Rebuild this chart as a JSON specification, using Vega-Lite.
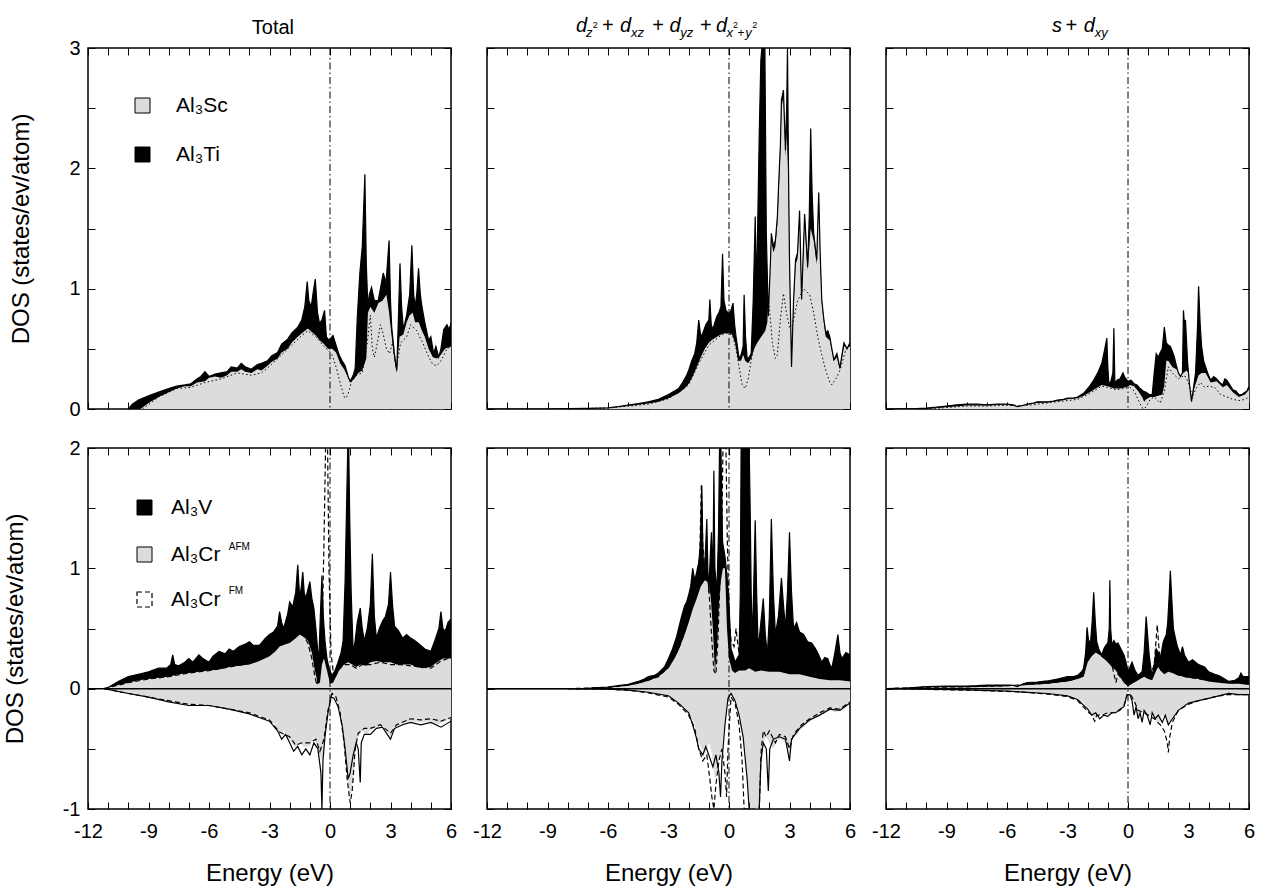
{
"$schema":"https://vega.github.io/schema/vega-lite/v6.json",
"padding":{"left":2,"top":15,"right":5,"bottom":5},
"background":"white",
"config":{
 "font":"Liberation Sans",
 "view":{"stroke":"black","strokeWidth":1.5},
 "axis":{"domain":false,"grid":false,"tickSize":-7,"tickColor":"black","tickWidth":1,"labelFontSize":20,"labelColor":"black","titleFontSize":24,"titleFontWeight":"normal","titleColor":"black","labelOverlap":false,"labelBound":false},
 "axisX":{"labelPadding":19,"titlePadding":20,"labelFlush":false},
 "axisY":{"labelPadding":15,"titlePadding":35},
 "text":{"color":"black"}
},
"datasets":{
"p1":[
{"s":"a","x":-10,"y":0},{"s":"a","x":-9.8,"y":0.04},{"s":"a","x":-9.5,"y":0.075},{"s":"a","x":-9,"y":0.11},{"s":"a","x":-8.5,"y":0.14},{"s":"a","x":-8,"y":0.17},{"s":"a","x":-7.6,"y":0.19},{"s":"a","x":-7.2,"y":0.2},{"s":"a","x":-6.9,"y":0.21},{"s":"a","x":-6.6,"y":0.25},{"s":"a","x":-6.4,"y":0.27},{"s":"a","x":-6.2,"y":0.31},{"s":"a","x":-6,"y":0.27},{"s":"a","x":-5.7,"y":0.29},{"s":"a","x":-5.4,"y":0.3},{"s":"a","x":-5.1,"y":0.31},{"s":"a","x":-4.9,"y":0.35},{"s":"a","x":-4.6,"y":0.34},{"s":"a","x":-4.4,"y":0.38},{"s":"a","x":-4.2,"y":0.35},{"s":"a","x":-3.9,"y":0.33},{"s":"a","x":-3.6,"y":0.37},{"s":"a","x":-3.4,"y":0.38},{"s":"a","x":-3.1,"y":0.4},{"s":"a","x":-2.9,"y":0.44},{"s":"a","x":-2.6,"y":0.47},{"s":"a","x":-2.4,"y":0.54},{"s":"a","x":-2.1,"y":0.58},{"s":"a","x":-1.9,"y":0.63},{"s":"a","x":-1.6,"y":0.68},{"s":"a","x":-1.4,"y":0.74},{"s":"a","x":-1.25,"y":0.85},{"s":"a","x":-1.13,"y":1.06},{"s":"a","x":-1.05,"y":0.9},{"s":"a","x":-0.93,"y":0.85},{"s":"a","x":-0.85,"y":0.95},{"s":"a","x":-0.73,"y":1.08},{"s":"a","x":-0.62,"y":0.8},{"s":"a","x":-0.52,"y":0.71},{"s":"a","x":-0.4,"y":0.74},{"s":"a","x":-0.27,"y":0.82},{"s":"a","x":-0.18,"y":0.6},{"s":"a","x":-0.05,"y":0.57},{"s":"a","x":0.15,"y":0.61},{"s":"a","x":0.3,"y":0.53},{"s":"a","x":0.45,"y":0.45},{"s":"a","x":0.6,"y":0.4},{"s":"a","x":0.75,"y":0.36},{"s":"a","x":0.9,"y":0.27},{"s":"a","x":1,"y":0.23},{"s":"a","x":1.15,"y":0.28},{"s":"a","x":1.25,"y":0.34},{"s":"a","x":1.35,"y":0.75},{"s":"a","x":1.48,"y":1.13},{"s":"a","x":1.6,"y":1.35},{"s":"a","x":1.73,"y":1.95},{"s":"a","x":1.8,"y":1.2},{"s":"a","x":1.88,"y":0.85},{"s":"a","x":1.95,"y":0.95},{"s":"a","x":2.06,"y":1.01},{"s":"a","x":2.2,"y":0.9},{"s":"a","x":2.39,"y":0.9},{"s":"a","x":2.5,"y":1},{"s":"a","x":2.64,"y":1.13},{"s":"a","x":2.78,"y":1.05},{"s":"a","x":2.93,"y":1.4},{"s":"a","x":3,"y":0.9},{"s":"a","x":3.06,"y":0.68},{"s":"a","x":3.2,"y":0.45},{"s":"a","x":3.31,"y":0.32},{"s":"a","x":3.4,"y":0.8},{"s":"a","x":3.47,"y":1.21},{"s":"a","x":3.55,"y":0.85},{"s":"a","x":3.64,"y":0.66},{"s":"a","x":3.8,"y":0.78},{"s":"a","x":3.95,"y":0.95},{"s":"a","x":4.06,"y":1.36},{"s":"a","x":4.15,"y":0.95},{"s":"a","x":4.22,"y":0.85},{"s":"a","x":4.3,"y":0.95},{"s":"a","x":4.39,"y":1.17},{"s":"a","x":4.48,"y":0.95},{"s":"a","x":4.56,"y":0.85},{"s":"a","x":4.7,"y":0.72},{"s":"a","x":4.89,"y":0.57},{"s":"a","x":5,"y":0.6},{"s":"a","x":5.14,"y":0.46},{"s":"a","x":5.25,"y":0.52},{"s":"a","x":5.39,"y":0.43},{"s":"a","x":5.5,"y":0.5},{"s":"a","x":5.64,"y":0.66},{"s":"a","x":5.8,"y":0.7},{"s":"a","x":5.9,"y":0.66},{"s":"a","x":6,"y":0.71},
{"s":"b","x":-9.4,"y":0},{"s":"b","x":-9,"y":0.05},{"s":"b","x":-8.5,"y":0.1},{"s":"b","x":-8,"y":0.14},{"s":"b","x":-7.6,"y":0.17},{"s":"b","x":-7.2,"y":0.19},{"s":"b","x":-6.9,"y":0.19},{"s":"b","x":-6.6,"y":0.22},{"s":"b","x":-6.2,"y":0.23},{"s":"b","x":-6,"y":0.26},{"s":"b","x":-5.7,"y":0.27},{"s":"b","x":-5.4,"y":0.26},{"s":"b","x":-5.1,"y":0.28},{"s":"b","x":-4.9,"y":0.31},{"s":"b","x":-4.6,"y":0.31},{"s":"b","x":-4.4,"y":0.33},{"s":"b","x":-4.2,"y":0.31},{"s":"b","x":-3.9,"y":0.3},{"s":"b","x":-3.6,"y":0.33},{"s":"b","x":-3.4,"y":0.32},{"s":"b","x":-3.1,"y":0.36},{"s":"b","x":-2.9,"y":0.39},{"s":"b","x":-2.6,"y":0.42},{"s":"b","x":-2.4,"y":0.47},{"s":"b","x":-2.1,"y":0.5},{"s":"b","x":-1.9,"y":0.55},{"s":"b","x":-1.6,"y":0.6},{"s":"b","x":-1.4,"y":0.63},{"s":"b","x":-1.1,"y":0.67},{"s":"b","x":-0.9,"y":0.64},{"s":"b","x":-0.7,"y":0.61},{"s":"b","x":-0.5,"y":0.57},{"s":"b","x":-0.3,"y":0.54},{"s":"b","x":-0.1,"y":0.5},{"s":"b","x":0.1,"y":0.5},{"s":"b","x":0.3,"y":0.47},{"s":"b","x":0.5,"y":0.38},{"s":"b","x":0.7,"y":0.33},{"s":"b","x":0.9,"y":0.26},{"s":"b","x":1,"y":0.22},{"s":"b","x":1.2,"y":0.25},{"s":"b","x":1.4,"y":0.3},{"s":"b","x":1.6,"y":0.32},{"s":"b","x":1.8,"y":0.42},{"s":"b","x":1.88,"y":0.8},{"s":"b","x":2,"y":0.85},{"s":"b","x":2.2,"y":0.8},{"s":"b","x":2.4,"y":0.88},{"s":"b","x":2.6,"y":0.9},{"s":"b","x":2.8,"y":0.95},{"s":"b","x":2.93,"y":0.8},{"s":"b","x":3.06,"y":0.6},{"s":"b","x":3.2,"y":0.4},{"s":"b","x":3.31,"y":0.3},{"s":"b","x":3.45,"y":0.6},{"s":"b","x":3.64,"y":0.62},{"s":"b","x":3.8,"y":0.72},{"s":"b","x":3.95,"y":0.78},{"s":"b","x":4.1,"y":0.8},{"s":"b","x":4.22,"y":0.72},{"s":"b","x":4.4,"y":0.72},{"s":"b","x":4.56,"y":0.65},{"s":"b","x":4.7,"y":0.6},{"s":"b","x":4.89,"y":0.5},{"s":"b","x":5.1,"y":0.43},{"s":"b","x":5.3,"y":0.42},{"s":"b","x":5.5,"y":0.45},{"s":"b","x":5.7,"y":0.5},{"s":"b","x":6,"y":0.52},
{"s":"c","x":-9.3,"y":0},{"s":"c","x":-8.5,"y":0.1},{"s":"c","x":-7.6,"y":0.17},{"s":"c","x":-6.9,"y":0.18},{"s":"c","x":-6.2,"y":0.22},{"s":"c","x":-5.4,"y":0.25},{"s":"c","x":-4.6,"y":0.3},{"s":"c","x":-3.9,"y":0.28},{"s":"c","x":-3.4,"y":0.3},{"s":"c","x":-2.9,"y":0.37},{"s":"c","x":-2.4,"y":0.45},{"s":"c","x":-1.9,"y":0.53},{"s":"c","x":-1.4,"y":0.61},{"s":"c","x":-1.1,"y":0.65},{"s":"c","x":-0.7,"y":0.6},{"s":"c","x":-0.3,"y":0.52},{"s":"c","x":-0.1,"y":0.49},{"s":"c","x":0.1,"y":0.45},{"s":"c","x":0.3,"y":0.35},{"s":"c","x":0.5,"y":0.22},{"s":"c","x":0.7,"y":0.1},{"s":"c","x":0.8,"y":0.09},{"s":"c","x":0.95,"y":0.15},{"s":"c","x":1.1,"y":0.25},{"s":"c","x":1.3,"y":0.28},{"s":"c","x":1.6,"y":0.3},{"s":"c","x":1.85,"y":0.55},{"s":"c","x":2,"y":0.78},{"s":"c","x":2.1,"y":0.5},{"s":"c","x":2.2,"y":0.43},{"s":"c","x":2.35,"y":0.55},{"s":"c","x":2.5,"y":0.7},{"s":"c","x":2.6,"y":0.65},{"s":"c","x":2.8,"y":0.5},{"s":"c","x":2.95,"y":0.46},{"s":"c","x":3.1,"y":0.55},{"s":"c","x":3.3,"y":0.35},{"s":"c","x":3.5,"y":0.55},{"s":"c","x":3.8,"y":0.6},{"s":"c","x":4,"y":0.7},{"s":"c","x":4.3,"y":0.65},{"s":"c","x":4.6,"y":0.55},{"s":"c","x":4.9,"y":0.43},{"s":"c","x":5.1,"y":0.37},{"s":"c","x":5.3,"y":0.36},{"s":"c","x":5.5,"y":0.4},{"s":"c","x":5.8,"y":0.5},{"s":"c","x":6,"y":0.52}
],
"p2":[
{"s":"a","x":-12,"y":0},{"s":"a","x":-9,"y":0},{"s":"a","x":-8,"y":0.003},{"s":"a","x":-7,"y":0.006},{"s":"a","x":-6,"y":0.01},{"s":"a","x":-5.5,"y":0.02},{"s":"a","x":-5,"y":0.033},{"s":"a","x":-4.5,"y":0.045},{"s":"a","x":-4,"y":0.06},{"s":"a","x":-3.5,"y":0.08},{"s":"a","x":-3,"y":0.12},{"s":"a","x":-2.7,"y":0.15},{"s":"a","x":-2.5,"y":0.17},{"s":"a","x":-2.3,"y":0.22},{"s":"a","x":-2.1,"y":0.28},{"s":"a","x":-2,"y":0.32},{"s":"a","x":-1.85,"y":0.4},{"s":"a","x":-1.7,"y":0.46},{"s":"a","x":-1.6,"y":0.55},{"s":"a","x":-1.5,"y":0.74},{"s":"a","x":-1.4,"y":0.6},{"s":"a","x":-1.3,"y":0.63},{"s":"a","x":-1.15,"y":0.7},{"s":"a","x":-1,"y":0.74},{"s":"a","x":-0.95,"y":0.91},{"s":"a","x":-0.88,"y":0.7},{"s":"a","x":-0.8,"y":0.66},{"s":"a","x":-0.7,"y":0.72},{"s":"a","x":-0.6,"y":0.77},{"s":"a","x":-0.5,"y":0.8},{"s":"a","x":-0.4,"y":0.85},{"s":"a","x":-0.32,"y":1.29},{"s":"a","x":-0.25,"y":0.9},{"s":"a","x":-0.15,"y":0.82},{"s":"a","x":0,"y":0.79},{"s":"a","x":0.1,"y":0.82},{"s":"a","x":0.2,"y":0.88},{"s":"a","x":0.28,"y":0.7},{"s":"a","x":0.35,"y":0.6},{"s":"a","x":0.5,"y":0.42},{"s":"a","x":0.6,"y":0.45},{"s":"a","x":0.7,"y":0.52},{"s":"a","x":0.75,"y":0.95},{"s":"a","x":0.82,"y":0.6},{"s":"a","x":0.9,"y":0.42},{"s":"a","x":1,"y":0.43},{"s":"a","x":1.1,"y":0.46},{"s":"a","x":1.2,"y":0.9},{"s":"a","x":1.3,"y":1.6},{"s":"a","x":1.36,"y":1},{"s":"a","x":1.42,"y":1.5},{"s":"a","x":1.5,"y":2.29},{"s":"a","x":1.58,"y":2.9},{"s":"a","x":1.63,"y":3},{"s":"a","x":1.72,"y":3},{"s":"a","x":1.78,"y":3},{"s":"a","x":1.85,"y":1.46},{"s":"a","x":1.95,"y":0.77},{"s":"a","x":2.05,"y":1.2},{"s":"a","x":2.1,"y":1.46},{"s":"a","x":2.2,"y":1.35},{"s":"a","x":2.3,"y":1.4},{"s":"a","x":2.4,"y":1.6},{"s":"a","x":2.45,"y":1.82},{"s":"a","x":2.55,"y":2.2},{"s":"a","x":2.6,"y":2.57},{"s":"a","x":2.7,"y":2.65},{"s":"a","x":2.8,"y":2.15},{"s":"a","x":2.86,"y":2.5},{"s":"a","x":2.9,"y":3},{"s":"a","x":2.95,"y":2},{"s":"a","x":3,"y":1.24},{"s":"a","x":3.1,"y":0.35},{"s":"a","x":3.2,"y":0.9},{"s":"a","x":3.3,"y":1.24},{"s":"a","x":3.4,"y":1.3},{"s":"a","x":3.5,"y":1.65},{"s":"a","x":3.6,"y":0.91},{"s":"a","x":3.75,"y":1.62},{"s":"a","x":3.9,"y":1.18},{"s":"a","x":3.98,"y":1.6},{"s":"a","x":4.05,"y":2.33},{"s":"a","x":4.12,"y":1.8},{"s":"a","x":4.2,"y":1.46},{"s":"a","x":4.35,"y":1.24},{"s":"a","x":4.45,"y":1.8},{"s":"a","x":4.52,"y":1.3},{"s":"a","x":4.6,"y":0.91},{"s":"a","x":4.7,"y":0.75},{"s":"a","x":4.8,"y":0.63},{"s":"a","x":4.9,"y":0.65},{"s":"a","x":5,"y":0.6},{"s":"a","x":5.1,"y":0.5},{"s":"a","x":5.2,"y":0.41},{"s":"a","x":5.35,"y":0.46},{"s":"a","x":5.45,"y":0.38},{"s":"a","x":5.5,"y":0.34},{"s":"a","x":5.6,"y":0.45},{"s":"a","x":5.7,"y":0.55},{"s":"a","x":5.85,"y":0.5},{"s":"a","x":6,"y":0.55},
{"s":"b","x":-9,"y":0},{"s":"b","x":-7,"y":0.004},{"s":"b","x":-6,"y":0.008},{"s":"b","x":-5,"y":0.025},{"s":"b","x":-4,"y":0.045},{"s":"b","x":-3.5,"y":0.06},{"s":"b","x":-3,"y":0.09},{"s":"b","x":-2.5,"y":0.13},{"s":"b","x":-2.2,"y":0.17},{"s":"b","x":-2,"y":0.21},{"s":"b","x":-1.8,"y":0.27},{"s":"b","x":-1.6,"y":0.35},{"s":"b","x":-1.4,"y":0.43},{"s":"b","x":-1.2,"y":0.5},{"s":"b","x":-1,"y":0.55},{"s":"b","x":-0.8,"y":0.58},{"s":"b","x":-0.6,"y":0.6},{"s":"b","x":-0.4,"y":0.62},{"s":"b","x":-0.2,"y":0.63},{"s":"b","x":0,"y":0.63},{"s":"b","x":0.15,"y":0.62},{"s":"b","x":0.3,"y":0.55},{"s":"b","x":0.45,"y":0.4},{"s":"b","x":0.6,"y":0.4},{"s":"b","x":0.7,"y":0.45},{"s":"b","x":0.8,"y":0.4},{"s":"b","x":0.95,"y":0.38},{"s":"b","x":1.1,"y":0.42},{"s":"b","x":1.25,"y":0.5},{"s":"b","x":1.4,"y":0.55},{"s":"b","x":1.6,"y":0.6},{"s":"b","x":1.8,"y":0.65},{"s":"b","x":1.9,"y":0.72},{"s":"b","x":2,"y":1.1},{"s":"b","x":2.1,"y":1.4},{"s":"b","x":2.2,"y":1.3},{"s":"b","x":2.3,"y":1.35},{"s":"b","x":2.4,"y":1.55},{"s":"b","x":2.45,"y":1.75},{"s":"b","x":2.55,"y":2.15},{"s":"b","x":2.6,"y":2.5},{"s":"b","x":2.7,"y":2.6},{"s":"b","x":2.8,"y":2.1},{"s":"b","x":2.86,"y":2.3},{"s":"b","x":2.95,"y":1.9},{"s":"b","x":3,"y":1.2},{"s":"b","x":3.1,"y":0.35},{"s":"b","x":3.2,"y":0.85},{"s":"b","x":3.3,"y":1.2},{"s":"b","x":3.4,"y":1.25},{"s":"b","x":3.5,"y":1.6},{"s":"b","x":3.6,"y":0.9},{"s":"b","x":3.75,"y":1.55},{"s":"b","x":3.9,"y":1.15},{"s":"b","x":4.05,"y":1.5},{"s":"b","x":4.2,"y":1.4},{"s":"b","x":4.35,"y":1.2},{"s":"b","x":4.45,"y":1.7},{"s":"b","x":4.52,"y":1.25},{"s":"b","x":4.6,"y":0.88},{"s":"b","x":4.7,"y":0.72},{"s":"b","x":4.8,"y":0.6},{"s":"b","x":5,"y":0.57},{"s":"b","x":5.2,"y":0.4},{"s":"b","x":5.35,"y":0.43},{"s":"b","x":5.5,"y":0.33},{"s":"b","x":5.7,"y":0.52},{"s":"b","x":6,"y":0.52},
{"s":"c","x":-9,"y":0},{"s":"c","x":-6,"y":0.008},{"s":"c","x":-4,"y":0.04},{"s":"c","x":-3,"y":0.085},{"s":"c","x":-2,"y":0.2},{"s":"c","x":-1.5,"y":0.38},{"s":"c","x":-1,"y":0.53},{"s":"c","x":-0.5,"y":0.6},{"s":"c","x":-0.2,"y":0.63},{"s":"c","x":0,"y":0.63},{"s":"c","x":0.2,"y":0.6},{"s":"c","x":0.35,"y":0.5},{"s":"c","x":0.5,"y":0.35},{"s":"c","x":0.65,"y":0.2},{"s":"c","x":0.8,"y":0.17},{"s":"c","x":0.95,"y":0.25},{"s":"c","x":1.1,"y":0.4},{"s":"c","x":1.3,"y":0.6},{"s":"c","x":1.5,"y":0.85},{"s":"c","x":1.7,"y":0.95},{"s":"c","x":1.85,"y":0.99},{"s":"c","x":2,"y":0.85},{"s":"c","x":2.15,"y":0.55},{"s":"c","x":2.3,"y":0.42},{"s":"c","x":2.4,"y":0.45},{"s":"c","x":2.55,"y":0.75},{"s":"c","x":2.7,"y":0.96},{"s":"c","x":2.85,"y":0.8},{"s":"c","x":3,"y":0.68},{"s":"c","x":3.15,"y":0.7},{"s":"c","x":3.4,"y":0.9},{"s":"c","x":3.7,"y":1},{"s":"c","x":4,"y":0.95},{"s":"c","x":4.2,"y":0.8},{"s":"c","x":4.4,"y":0.6},{"s":"c","x":4.6,"y":0.45},{"s":"c","x":4.8,"y":0.32},{"s":"c","x":5,"y":0.22},{"s":"c","x":5.1,"y":0.2},{"s":"c","x":5.3,"y":0.25},{"s":"c","x":5.5,"y":0.32},{"s":"c","x":5.8,"y":0.5},{"s":"c","x":6,"y":0.52}
],
"p3":[
{"s":"a","x":-12,"y":0},{"s":"a","x":-10.5,"y":0.003},{"s":"a","x":-10,"y":0.008},{"s":"a","x":-9.5,"y":0.015},{"s":"a","x":-9,"y":0.025},{"s":"a","x":-8.5,"y":0.035},{"s":"a","x":-8,"y":0.04},{"s":"a","x":-7.5,"y":0.04},{"s":"a","x":-7,"y":0.035},{"s":"a","x":-6.5,"y":0.04},{"s":"a","x":-6,"y":0.04},{"s":"a","x":-5.7,"y":0.035},{"s":"a","x":-5.5,"y":0.02},{"s":"a","x":-5.2,"y":0.03},{"s":"a","x":-5,"y":0.04},{"s":"a","x":-4.7,"y":0.05},{"s":"a","x":-4.5,"y":0.06},{"s":"a","x":-4.2,"y":0.06},{"s":"a","x":-4,"y":0.06},{"s":"a","x":-3.7,"y":0.065},{"s":"a","x":-3.5,"y":0.075},{"s":"a","x":-3.2,"y":0.08},{"s":"a","x":-3,"y":0.09},{"s":"a","x":-2.7,"y":0.09},{"s":"a","x":-2.5,"y":0.1},{"s":"a","x":-2.2,"y":0.13},{"s":"a","x":-1.9,"y":0.19},{"s":"a","x":-1.7,"y":0.24},{"s":"a","x":-1.5,"y":0.3},{"s":"a","x":-1.3,"y":0.38},{"s":"a","x":-1.15,"y":0.5},{"s":"a","x":-1.05,"y":0.59},{"s":"a","x":-1,"y":0.35},{"s":"a","x":-0.95,"y":0.21},{"s":"a","x":-0.85,"y":0.23},{"s":"a","x":-0.75,"y":0.3},{"s":"a","x":-0.7,"y":0.67},{"s":"a","x":-0.65,"y":0.21},{"s":"a","x":-0.55,"y":0.24},{"s":"a","x":-0.4,"y":0.25},{"s":"a","x":-0.25,"y":0.3},{"s":"a","x":-0.15,"y":0.26},{"s":"a","x":0,"y":0.23},{"s":"a","x":0.15,"y":0.24},{"s":"a","x":0.3,"y":0.21},{"s":"a","x":0.45,"y":0.2},{"s":"a","x":0.6,"y":0.17},{"s":"a","x":0.75,"y":0.15},{"s":"a","x":0.9,"y":0.14},{"s":"a","x":1.05,"y":0.12},{"s":"a","x":1.2,"y":0.12},{"s":"a","x":1.3,"y":0.3},{"s":"a","x":1.4,"y":0.46},{"s":"a","x":1.5,"y":0.43},{"s":"a","x":1.6,"y":0.47},{"s":"a","x":1.7,"y":0.5},{"s":"a","x":1.8,"y":0.68},{"s":"a","x":1.9,"y":0.55},{"s":"a","x":2,"y":0.53},{"s":"a","x":2.1,"y":0.52},{"s":"a","x":2.2,"y":0.48},{"s":"a","x":2.3,"y":0.43},{"s":"a","x":2.4,"y":0.36},{"s":"a","x":2.5,"y":0.3},{"s":"a","x":2.6,"y":0.27},{"s":"a","x":2.7,"y":0.3},{"s":"a","x":2.75,"y":0.82},{"s":"a","x":2.8,"y":0.7},{"s":"a","x":2.85,"y":0.74},{"s":"a","x":2.95,"y":0.4},{"s":"a","x":3.05,"y":0.2},{"s":"a","x":3.15,"y":0.06},{"s":"a","x":3.25,"y":0.18},{"s":"a","x":3.35,"y":0.3},{"s":"a","x":3.45,"y":0.7},{"s":"a","x":3.5,"y":1.02},{"s":"a","x":3.58,"y":0.7},{"s":"a","x":3.65,"y":0.52},{"s":"a","x":3.75,"y":0.4},{"s":"a","x":3.85,"y":0.35},{"s":"a","x":3.95,"y":0.3},{"s":"a","x":4.1,"y":0.24},{"s":"a","x":4.25,"y":0.27},{"s":"a","x":4.4,"y":0.25},{"s":"a","x":4.55,"y":0.22},{"s":"a","x":4.7,"y":0.2},{"s":"a","x":4.8,"y":0.25},{"s":"a","x":4.9,"y":0.24},{"s":"a","x":5.05,"y":0.2},{"s":"a","x":5.2,"y":0.16},{"s":"a","x":5.35,"y":0.15},{"s":"a","x":5.5,"y":0.12},{"s":"a","x":5.65,"y":0.12},{"s":"a","x":5.8,"y":0.14},{"s":"a","x":5.9,"y":0.15},{"s":"a","x":6,"y":0.19},
{"s":"b","x":-10,"y":0},{"s":"b","x":-9,"y":0.015},{"s":"b","x":-8,"y":0.03},{"s":"b","x":-7,"y":0.03},{"s":"b","x":-6,"y":0.035},{"s":"b","x":-5.5,"y":0.02},{"s":"b","x":-5,"y":0.035},{"s":"b","x":-4.5,"y":0.05},{"s":"b","x":-4,"y":0.055},{"s":"b","x":-3.5,"y":0.065},{"s":"b","x":-3,"y":0.08},{"s":"b","x":-2.5,"y":0.09},{"s":"b","x":-2.2,"y":0.11},{"s":"b","x":-1.9,"y":0.14},{"s":"b","x":-1.6,"y":0.17},{"s":"b","x":-1.3,"y":0.2},{"s":"b","x":-1,"y":0.19},{"s":"b","x":-0.7,"y":0.17},{"s":"b","x":-0.4,"y":0.17},{"s":"b","x":-0.1,"y":0.18},{"s":"b","x":0.1,"y":0.2},{"s":"b","x":0.3,"y":0.19},{"s":"b","x":0.5,"y":0.15},{"s":"b","x":0.7,"y":0.1},{"s":"b","x":0.8,"y":0.06},{"s":"b","x":0.9,"y":0.08},{"s":"b","x":1.1,"y":0.1},{"s":"b","x":1.3,"y":0.1},{"s":"b","x":1.5,"y":0.11},{"s":"b","x":1.7,"y":0.12},{"s":"b","x":1.8,"y":0.2},{"s":"b","x":1.9,"y":0.4},{"s":"b","x":2,"y":0.4},{"s":"b","x":2.2,"y":0.35},{"s":"b","x":2.4,"y":0.33},{"s":"b","x":2.6,"y":0.28},{"s":"b","x":2.75,"y":0.3},{"s":"b","x":2.9,"y":0.32},{"s":"b","x":3,"y":0.3},{"s":"b","x":3.15,"y":0.06},{"s":"b","x":3.3,"y":0.18},{"s":"b","x":3.5,"y":0.28},{"s":"b","x":3.65,"y":0.3},{"s":"b","x":3.85,"y":0.3},{"s":"b","x":4.1,"y":0.22},{"s":"b","x":4.4,"y":0.23},{"s":"b","x":4.7,"y":0.18},{"s":"b","x":4.9,"y":0.2},{"s":"b","x":5.2,"y":0.14},{"s":"b","x":5.5,"y":0.1},{"s":"b","x":5.8,"y":0.12},{"s":"b","x":6,"y":0.16},
{"s":"c","x":-10,"y":0},{"s":"c","x":-9,"y":0.012},{"s":"c","x":-8,"y":0.025},{"s":"c","x":-7,"y":0.025},{"s":"c","x":-6,"y":0.03},{"s":"c","x":-5,"y":0.03},{"s":"c","x":-4,"y":0.05},{"s":"c","x":-3,"y":0.07},{"s":"c","x":-2.5,"y":0.08},{"s":"c","x":-2,"y":0.12},{"s":"c","x":-1.6,"y":0.16},{"s":"c","x":-1.3,"y":0.19},{"s":"c","x":-1,"y":0.18},{"s":"c","x":-0.6,"y":0.16},{"s":"c","x":-0.2,"y":0.17},{"s":"c","x":0.1,"y":0.18},{"s":"c","x":0.3,"y":0.15},{"s":"c","x":0.5,"y":0.08},{"s":"c","x":0.7,"y":0.01},{"s":"c","x":0.8,"y":0},{"s":"c","x":0.9,"y":0.02},{"s":"c","x":1.1,"y":0.08},{"s":"c","x":1.3,"y":0.1},{"s":"c","x":1.6,"y":0.05},{"s":"c","x":1.8,"y":0.15},{"s":"c","x":2,"y":0.35},{"s":"c","x":2.2,"y":0.3},{"s":"c","x":2.5,"y":0.25},{"s":"c","x":2.8,"y":0.28},{"s":"c","x":3,"y":0.22},{"s":"c","x":3.2,"y":0.1},{"s":"c","x":3.4,"y":0.18},{"s":"c","x":3.6,"y":0.22},{"s":"c","x":3.8,"y":0.18},{"s":"c","x":4,"y":0.19},{"s":"c","x":4.3,"y":0.18},{"s":"c","x":4.6,"y":0.12},{"s":"c","x":4.9,"y":0.1},{"s":"c","x":5.2,"y":0.08},{"s":"c","x":5.5,"y":0.07},{"s":"c","x":5.8,"y":0.08},{"s":"c","x":6,"y":0.1}
],
"p4":[
{"s":"v","x":-11.2,"y":0},{"s":"v","x":-11,"y":0.01},{"s":"v","x":-10.5,"y":0.06},{"s":"v","x":-10,"y":0.1},{"s":"v","x":-9.5,"y":0.12},{"s":"v","x":-9,"y":0.14},{"s":"v","x":-8.5,"y":0.17},{"s":"v","x":-8.1,"y":0.17},{"s":"v","x":-7.9,"y":0.2},{"s":"v","x":-7.8,"y":0.28},{"s":"v","x":-7.7,"y":0.2},{"s":"v","x":-7.5,"y":0.19},{"s":"v","x":-7.2,"y":0.22},{"s":"v","x":-7,"y":0.25},{"s":"v","x":-6.8,"y":0.22},{"s":"v","x":-6.5,"y":0.28},{"s":"v","x":-6.3,"y":0.25},{"s":"v","x":-6,"y":0.22},{"s":"v","x":-5.8,"y":0.27},{"s":"v","x":-5.5,"y":0.31},{"s":"v","x":-5.2,"y":0.29},{"s":"v","x":-5,"y":0.33},{"s":"v","x":-4.8,"y":0.31},{"s":"v","x":-4.5,"y":0.35},{"s":"v","x":-4.2,"y":0.37},{"s":"v","x":-4,"y":0.39},{"s":"v","x":-3.8,"y":0.36},{"s":"v","x":-3.5,"y":0.36},{"s":"v","x":-3.2,"y":0.42},{"s":"v","x":-3,"y":0.45},{"s":"v","x":-2.8,"y":0.47},{"s":"v","x":-2.6,"y":0.52},{"s":"v","x":-2.5,"y":0.64},{"s":"v","x":-2.4,"y":0.55},{"s":"v","x":-2.3,"y":0.5},{"s":"v","x":-2.1,"y":0.62},{"s":"v","x":-2,"y":0.72},{"s":"v","x":-1.85,"y":0.68},{"s":"v","x":-1.7,"y":0.8},{"s":"v","x":-1.6,"y":1.03},{"s":"v","x":-1.5,"y":0.75},{"s":"v","x":-1.42,"y":0.85},{"s":"v","x":-1.35,"y":0.97},{"s":"v","x":-1.28,"y":0.8},{"s":"v","x":-1.2,"y":0.75},{"s":"v","x":-1.1,"y":0.82},{"s":"v","x":-1,"y":0.89},{"s":"v","x":-0.9,"y":0.75},{"s":"v","x":-0.8,"y":0.67},{"s":"v","x":-0.7,"y":0.5},{"s":"v","x":-0.6,"y":0.3},{"s":"v","x":-0.55,"y":0.25},{"s":"v","x":-0.48,"y":0.6},{"s":"v","x":-0.4,"y":0.94},{"s":"v","x":-0.33,"y":0.6},{"s":"v","x":-0.25,"y":0.4},{"s":"v","x":-0.15,"y":0.25},{"s":"v","x":-0.05,"y":0.17},{"s":"v","x":0.1,"y":0.11},{"s":"v","x":0.25,"y":0.15},{"s":"v","x":0.4,"y":0.22},{"s":"v","x":0.55,"y":0.3},{"s":"v","x":0.65,"y":0.4},{"s":"v","x":0.75,"y":0.9},{"s":"v","x":0.82,"y":1.5},{"s":"v","x":0.88,"y":2},{"s":"v","x":0.93,"y":2},{"s":"v","x":0.98,"y":1.4},{"s":"v","x":1.05,"y":0.8},{"s":"v","x":1.15,"y":0.3},{"s":"v","x":1.25,"y":0.4},{"s":"v","x":1.35,"y":0.55},{"s":"v","x":1.5,"y":0.67},{"s":"v","x":1.6,"y":0.5},{"s":"v","x":1.7,"y":0.4},{"s":"v","x":1.85,"y":0.5},{"s":"v","x":2,"y":0.7},{"s":"v","x":2.1,"y":1.12},{"s":"v","x":2.2,"y":0.6},{"s":"v","x":2.3,"y":0.42},{"s":"v","x":2.45,"y":0.5},{"s":"v","x":2.6,"y":0.56},{"s":"v","x":2.75,"y":0.6},{"s":"v","x":2.9,"y":0.7},{"s":"v","x":3,"y":0.97},{"s":"v","x":3.1,"y":0.7},{"s":"v","x":3.2,"y":0.52},{"s":"v","x":3.4,"y":0.48},{"s":"v","x":3.6,"y":0.42},{"s":"v","x":3.8,"y":0.45},{"s":"v","x":4,"y":0.42},{"s":"v","x":4.2,"y":0.4},{"s":"v","x":4.5,"y":0.36},{"s":"v","x":4.7,"y":0.33},{"s":"v","x":5,"y":0.31},{"s":"v","x":5.2,"y":0.4},{"s":"v","x":5.4,"y":0.5},{"s":"v","x":5.5,"y":0.64},{"s":"v","x":5.6,"y":0.5},{"s":"v","x":5.7,"y":0.47},{"s":"v","x":5.85,"y":0.55},{"s":"v","x":6,"y":0.58},
{"s":"g","x":-11.2,"y":0},{"s":"g","x":-10.5,"y":0.03},{"s":"g","x":-10,"y":0.05},{"s":"g","x":-9.5,"y":0.07},{"s":"g","x":-9,"y":0.08},{"s":"g","x":-8.5,"y":0.09},{"s":"g","x":-8,"y":0.1},{"s":"g","x":-7.5,"y":0.12},{"s":"g","x":-7,"y":0.13},{"s":"g","x":-6.5,"y":0.14},{"s":"g","x":-6,"y":0.15},{"s":"g","x":-5.5,"y":0.16},{"s":"g","x":-5,"y":0.18},{"s":"g","x":-4.5,"y":0.19},{"s":"g","x":-4,"y":0.2},{"s":"g","x":-3.5,"y":0.23},{"s":"g","x":-3,"y":0.27},{"s":"g","x":-2.7,"y":0.31},{"s":"g","x":-2.5,"y":0.35},{"s":"g","x":-2.2,"y":0.37},{"s":"g","x":-2,"y":0.38},{"s":"g","x":-1.7,"y":0.42},{"s":"g","x":-1.5,"y":0.45},{"s":"g","x":-1.3,"y":0.43},{"s":"g","x":-1.1,"y":0.4},{"s":"g","x":-0.9,"y":0.3},{"s":"g","x":-0.75,"y":0.15},{"s":"g","x":-0.6,"y":0.04},{"s":"g","x":-0.5,"y":0.05},{"s":"g","x":-0.4,"y":0.2},{"s":"g","x":-0.3,"y":0.25},{"s":"g","x":-0.15,"y":0.15},{"s":"g","x":0,"y":0.04},{"s":"g","x":0.15,"y":0.05},{"s":"g","x":0.3,"y":0.1},{"s":"g","x":0.5,"y":0.17},{"s":"g","x":0.7,"y":0.2},{"s":"g","x":0.9,"y":0.22},{"s":"g","x":1.1,"y":0.2},{"s":"g","x":1.3,"y":0.18},{"s":"g","x":1.5,"y":0.2},{"s":"g","x":1.8,"y":0.19},{"s":"g","x":2,"y":0.22},{"s":"g","x":2.3,"y":0.23},{"s":"g","x":2.6,"y":0.22},{"s":"g","x":3,"y":0.22},{"s":"g","x":3.3,"y":0.2},{"s":"g","x":3.6,"y":0.2},{"s":"g","x":4,"y":0.2},{"s":"g","x":4.3,"y":0.18},{"s":"g","x":4.6,"y":0.17},{"s":"g","x":5,"y":0.18},{"s":"g","x":5.3,"y":0.22},{"s":"g","x":5.6,"y":0.25},{"s":"g","x":6,"y":0.25},
{"s":"f","x":-11.2,"y":0},{"s":"f","x":-10,"y":0.05},{"s":"f","x":-9,"y":0.08},{"s":"f","x":-8,"y":0.1},{"s":"f","x":-7,"y":0.13},{"s":"f","x":-6,"y":0.15},{"s":"f","x":-5,"y":0.18},{"s":"f","x":-4,"y":0.21},{"s":"f","x":-3,"y":0.28},{"s":"f","x":-2.5,"y":0.36},{"s":"f","x":-2,"y":0.4},{"s":"f","x":-1.7,"y":0.44},{"s":"f","x":-1.5,"y":0.46},{"s":"f","x":-1.3,"y":0.44},{"s":"f","x":-1.1,"y":0.38},{"s":"f","x":-0.9,"y":0.25},{"s":"f","x":-0.75,"y":0.1},{"s":"f","x":-0.65,"y":0.03},{"s":"f","x":-0.55,"y":0.1},{"s":"f","x":-0.4,"y":0.4},{"s":"f","x":-0.3,"y":1.2},{"s":"f","x":-0.22,"y":2},{"s":"f","x":-0.12,"y":2},{"s":"f","x":-0.05,"y":1},{"s":"f","x":0.05,"y":0.3},{"s":"f","x":0.2,"y":0.08},{"s":"f","x":0.4,"y":0.15},{"s":"f","x":0.7,"y":0.2},{"s":"f","x":1,"y":0.2},{"s":"f","x":1.3,"y":0.17},{"s":"f","x":1.6,"y":0.2},{"s":"f","x":2,"y":0.2},{"s":"f","x":2.5,"y":0.22},{"s":"f","x":3,"y":0.2},{"s":"f","x":3.5,"y":0.2},{"s":"f","x":4,"y":0.19},{"s":"f","x":4.5,"y":0.18},{"s":"f","x":5,"y":0.17},{"s":"f","x":5.5,"y":0.23},{"s":"f","x":6,"y":0.26},
{"s":"gd","x":-11.2,"y":0},{"s":"gd","x":-10.5,"y":-0.02},{"s":"gd","x":-10,"y":-0.04},{"s":"gd","x":-9.5,"y":-0.05},{"s":"gd","x":-9,"y":-0.07},{"s":"gd","x":-8.5,"y":-0.09},{"s":"gd","x":-8,"y":-0.11},{"s":"gd","x":-7.5,"y":-0.12},{"s":"gd","x":-7,"y":-0.14},{"s":"gd","x":-6.5,"y":-0.13},{"s":"gd","x":-6,"y":-0.14},{"s":"gd","x":-5.5,"y":-0.15},{"s":"gd","x":-5,"y":-0.17},{"s":"gd","x":-4.5,"y":-0.18},{"s":"gd","x":-4,"y":-0.2},{"s":"gd","x":-3.5,"y":-0.22},{"s":"gd","x":-3,"y":-0.26},{"s":"gd","x":-2.7,"y":-0.3},{"s":"gd","x":-2.5,"y":-0.38},{"s":"gd","x":-2.3,"y":-0.35},{"s":"gd","x":-2,"y":-0.42},{"s":"gd","x":-1.7,"y":-0.5},{"s":"gd","x":-1.5,"y":-0.45},{"s":"gd","x":-1.3,"y":-0.48},{"s":"gd","x":-1,"y":-0.48},{"s":"gd","x":-0.8,"y":-0.4},{"s":"gd","x":-0.7,"y":-0.45},{"s":"gd","x":-0.5,"y":-0.55},{"s":"gd","x":-0.4,"y":-0.6},{"s":"gd","x":-0.3,"y":-0.45},{"s":"gd","x":-0.2,"y":-0.35},{"s":"gd","x":-0.1,"y":-0.2},{"s":"gd","x":0,"y":-0.1},{"s":"gd","x":0.1,"y":-0.05},{"s":"gd","x":0.25,"y":-0.07},{"s":"gd","x":0.4,"y":-0.12},{"s":"gd","x":0.55,"y":-0.22},{"s":"gd","x":0.7,"y":-0.4},{"s":"gd","x":0.8,"y":-0.6},{"s":"gd","x":0.9,"y":-0.8},{"s":"gd","x":1,"y":-0.9},{"s":"gd","x":1.1,"y":-0.8},{"s":"gd","x":1.2,"y":-0.65},{"s":"gd","x":1.3,"y":-0.45},{"s":"gd","x":1.45,"y":-0.38},{"s":"gd","x":1.6,"y":-0.35},{"s":"gd","x":1.8,"y":-0.38},{"s":"gd","x":2,"y":-0.35},{"s":"gd","x":2.3,"y":-0.32},{"s":"gd","x":2.6,"y":-0.3},{"s":"gd","x":2.85,"y":-0.35},{"s":"gd","x":3,"y":-0.4},{"s":"gd","x":3.15,"y":-0.32},{"s":"gd","x":3.5,"y":-0.3},{"s":"gd","x":4,"y":-0.27},{"s":"gd","x":4.5,"y":-0.28},{"s":"gd","x":5,"y":-0.27},{"s":"gd","x":5.3,"y":-0.3},{"s":"gd","x":5.6,"y":-0.28},{"s":"gd","x":6,"y":-0.25},
{"s":"vd","x":-11.2,"y":0},{"s":"vd","x":-10,"y":-0.04},{"s":"vd","x":-9,"y":-0.07},{"s":"vd","x":-8,"y":-0.11},{"s":"vd","x":-7,"y":-0.14},{"s":"vd","x":-6,"y":-0.14},{"s":"vd","x":-5,"y":-0.17},{"s":"vd","x":-4,"y":-0.21},{"s":"vd","x":-3,"y":-0.27},{"s":"vd","x":-2.6,"y":-0.35},{"s":"vd","x":-2.4,"y":-0.42},{"s":"vd","x":-2.2,"y":-0.38},{"s":"vd","x":-2,"y":-0.45},{"s":"vd","x":-1.8,"y":-0.52},{"s":"vd","x":-1.6,"y":-0.48},{"s":"vd","x":-1.4,"y":-0.55},{"s":"vd","x":-1.2,"y":-0.5},{"s":"vd","x":-1,"y":-0.55},{"s":"vd","x":-0.8,"y":-0.45},{"s":"vd","x":-0.6,"y":-0.5},{"s":"vd","x":-0.45,"y":-0.7},{"s":"vd","x":-0.4,"y":-1},{"s":"vd","x":-0.35,"y":-0.6},{"s":"vd","x":-0.25,"y":-0.4},{"s":"vd","x":-0.1,"y":-0.2},{"s":"vd","x":0.05,"y":-0.07},{"s":"vd","x":0.2,"y":-0.08},{"s":"vd","x":0.4,"y":-0.15},{"s":"vd","x":0.6,"y":-0.3},{"s":"vd","x":0.75,"y":-0.5},{"s":"vd","x":0.9,"y":-0.75},{"s":"vd","x":1,"y":-0.7},{"s":"vd","x":1.15,"y":-0.55},{"s":"vd","x":1.3,"y":-0.45},{"s":"vd","x":1.4,"y":-0.5},{"s":"vd","x":1.5,"y":-0.78},{"s":"vd","x":1.55,"y":-0.45},{"s":"vd","x":1.7,"y":-0.38},{"s":"vd","x":2,"y":-0.38},{"s":"vd","x":2.3,"y":-0.33},{"s":"vd","x":2.6,"y":-0.32},{"s":"vd","x":3,"y":-0.42},{"s":"vd","x":3.2,"y":-0.33},{"s":"vd","x":3.6,"y":-0.3},{"s":"vd","x":4,"y":-0.28},{"s":"vd","x":4.5,"y":-0.3},{"s":"vd","x":5,"y":-0.28},{"s":"vd","x":5.5,"y":-0.32},{"s":"vd","x":6,"y":-0.27},
{"s":"fd","x":-11.2,"y":0},{"s":"fd","x":-10,"y":-0.04},{"s":"fd","x":-9,"y":-0.07},{"s":"fd","x":-8,"y":-0.1},{"s":"fd","x":-7,"y":-0.13},{"s":"fd","x":-6,"y":-0.14},{"s":"fd","x":-5,"y":-0.17},{"s":"fd","x":-4,"y":-0.2},{"s":"fd","x":-3,"y":-0.26},{"s":"fd","x":-2.5,"y":-0.36},{"s":"fd","x":-2,"y":-0.4},{"s":"fd","x":-1.7,"y":-0.47},{"s":"fd","x":-1.4,"y":-0.45},{"s":"fd","x":-1,"y":-0.45},{"s":"fd","x":-0.7,"y":-0.42},{"s":"fd","x":-0.5,"y":-0.52},{"s":"fd","x":-0.3,"y":-0.42},{"s":"fd","x":-0.1,"y":-0.18},{"s":"fd","x":0.1,"y":-0.04},{"s":"fd","x":0.3,"y":-0.07},{"s":"fd","x":0.5,"y":-0.2},{"s":"fd","x":0.7,"y":-0.45},{"s":"fd","x":0.85,"y":-0.75},{"s":"fd","x":1,"y":-0.95},{"s":"fd","x":1.1,"y":-0.85},{"s":"fd","x":1.25,"y":-0.5},{"s":"fd","x":1.4,"y":-0.37},{"s":"fd","x":1.7,"y":-0.33},{"s":"fd","x":2,"y":-0.33},{"s":"fd","x":2.5,"y":-0.3},{"s":"fd","x":3,"y":-0.37},{"s":"fd","x":3.3,"y":-0.3},{"s":"fd","x":4,"y":-0.25},{"s":"fd","x":4.5,"y":-0.26},{"s":"fd","x":5,"y":-0.25},{"s":"fd","x":5.5,"y":-0.27},{"s":"fd","x":6,"y":-0.24}
],
"p5":[
{"s":"v","x":-12,"y":0},{"s":"v","x":-8,"y":0},{"s":"v","x":-7,"y":0.003},{"s":"v","x":-6.5,"y":0.008},{"s":"v","x":-6,"y":0.014},{"s":"v","x":-5.5,"y":0.025},{"s":"v","x":-5,"y":0.036},{"s":"v","x":-4.5,"y":0.06},{"s":"v","x":-4.2,"y":0.08},{"s":"v","x":-4,"y":0.1},{"s":"v","x":-3.7,"y":0.11},{"s":"v","x":-3.5,"y":0.13},{"s":"v","x":-3.2,"y":0.18},{"s":"v","x":-3,"y":0.25},{"s":"v","x":-2.8,"y":0.33},{"s":"v","x":-2.6,"y":0.43},{"s":"v","x":-2.5,"y":0.5},{"s":"v","x":-2.35,"y":0.6},{"s":"v","x":-2.2,"y":0.69},{"s":"v","x":-2.1,"y":0.72},{"s":"v","x":-2,"y":0.78},{"s":"v","x":-1.9,"y":0.85},{"s":"v","x":-1.8,"y":1},{"s":"v","x":-1.7,"y":0.9},{"s":"v","x":-1.6,"y":0.97},{"s":"v","x":-1.5,"y":1.05},{"s":"v","x":-1.42,"y":1.2},{"s":"v","x":-1.35,"y":1.69},{"s":"v","x":-1.3,"y":1.2},{"s":"v","x":-1.25,"y":0.94},{"s":"v","x":-1.18,"y":1.1},{"s":"v","x":-1.1,"y":1.41},{"s":"v","x":-1.05,"y":1},{"s":"v","x":-1,"y":0.8},{"s":"v","x":-0.93,"y":1.1},{"s":"v","x":-0.87,"y":1.3},{"s":"v","x":-0.8,"y":0.9},{"s":"v","x":-0.75,"y":1.81},{"s":"v","x":-0.7,"y":1},{"s":"v","x":-0.6,"y":0.8},{"s":"v","x":-0.52,"y":1.3},{"s":"v","x":-0.47,"y":2},{"s":"v","x":-0.4,"y":2},{"s":"v","x":-0.32,"y":1.22},{"s":"v","x":-0.2,"y":1.1},{"s":"v","x":-0.1,"y":0.94},{"s":"v","x":0,"y":0.7},{"s":"v","x":0.1,"y":0.33},{"s":"v","x":0.2,"y":0.28},{"s":"v","x":0.3,"y":0.22},{"s":"v","x":0.4,"y":0.25},{"s":"v","x":0.5,"y":0.28},{"s":"v","x":0.56,"y":0.8},{"s":"v","x":0.6,"y":2},{"s":"v","x":1,"y":2},{"s":"v","x":1.05,"y":1.5},{"s":"v","x":1.1,"y":0.8},{"s":"v","x":1.15,"y":0.39},{"s":"v","x":1.22,"y":0.8},{"s":"v","x":1.3,"y":1.4},{"s":"v","x":1.37,"y":0.8},{"s":"v","x":1.45,"y":0.33},{"s":"v","x":1.55,"y":0.5},{"s":"v","x":1.7,"y":0.75},{"s":"v","x":1.8,"y":0.45},{"s":"v","x":1.9,"y":0.28},{"s":"v","x":2,"y":0.6},{"s":"v","x":2.1,"y":1.41},{"s":"v","x":2.2,"y":0.8},{"s":"v","x":2.3,"y":0.45},{"s":"v","x":2.45,"y":0.6},{"s":"v","x":2.6,"y":0.92},{"s":"v","x":2.7,"y":0.7},{"s":"v","x":2.8,"y":0.5},{"s":"v","x":2.9,"y":0.8},{"s":"v","x":3,"y":1.3},{"s":"v","x":3.1,"y":0.8},{"s":"v","x":3.2,"y":0.5},{"s":"v","x":3.35,"y":0.55},{"s":"v","x":3.5,"y":0.47},{"s":"v","x":3.7,"y":0.45},{"s":"v","x":3.9,"y":0.39},{"s":"v","x":4.1,"y":0.38},{"s":"v","x":4.3,"y":0.33},{"s":"v","x":4.45,"y":0.28},{"s":"v","x":4.6,"y":0.22},{"s":"v","x":4.75,"y":0.26},{"s":"v","x":4.9,"y":0.25},{"s":"v","x":5,"y":0.2},{"s":"v","x":5.1,"y":0.17},{"s":"v","x":5.25,"y":0.3},{"s":"v","x":5.4,"y":0.45},{"s":"v","x":5.5,"y":0.3},{"s":"v","x":5.6,"y":0.25},{"s":"v","x":5.8,"y":0.3},{"s":"v","x":6,"y":0.28},
{"s":"g","x":-8,"y":0},{"s":"g","x":-7,"y":0.002},{"s":"g","x":-6,"y":0.008},{"s":"g","x":-5,"y":0.025},{"s":"g","x":-4.5,"y":0.04},{"s":"g","x":-4,"y":0.065},{"s":"g","x":-3.5,"y":0.1},{"s":"g","x":-3,"y":0.17},{"s":"g","x":-2.7,"y":0.25},{"s":"g","x":-2.5,"y":0.32},{"s":"g","x":-2.2,"y":0.45},{"s":"g","x":-2,"y":0.55},{"s":"g","x":-1.8,"y":0.66},{"s":"g","x":-1.6,"y":0.75},{"s":"g","x":-1.4,"y":0.85},{"s":"g","x":-1.2,"y":0.9},{"s":"g","x":-1,"y":0.88},{"s":"g","x":-0.9,"y":0.75},{"s":"g","x":-0.8,"y":0.5},{"s":"g","x":-0.7,"y":0.15},{"s":"g","x":-0.6,"y":0.3},{"s":"g","x":-0.5,"y":0.7},{"s":"g","x":-0.4,"y":0.9},{"s":"g","x":-0.3,"y":1},{"s":"g","x":-0.2,"y":1},{"s":"g","x":-0.1,"y":0.5},{"s":"g","x":0,"y":0.25},{"s":"g","x":0.15,"y":0.15},{"s":"g","x":0.3,"y":0.13},{"s":"g","x":0.5,"y":0.15},{"s":"g","x":0.8,"y":0.15},{"s":"g","x":1,"y":0.17},{"s":"g","x":1.3,"y":0.14},{"s":"g","x":1.6,"y":0.15},{"s":"g","x":2,"y":0.14},{"s":"g","x":2.5,"y":0.14},{"s":"g","x":3,"y":0.12},{"s":"g","x":3.5,"y":0.12},{"s":"g","x":4,"y":0.1},{"s":"g","x":4.5,"y":0.08},{"s":"g","x":5,"y":0.07},{"s":"g","x":5.5,"y":0.07},{"s":"g","x":6,"y":0.06},
{"s":"f","x":-8,"y":0},{"s":"f","x":-6,"y":0.01},{"s":"f","x":-5,"y":0.03},{"s":"f","x":-4,"y":0.07},{"s":"f","x":-3.5,"y":0.1},{"s":"f","x":-3,"y":0.18},{"s":"f","x":-2.5,"y":0.33},{"s":"f","x":-2.2,"y":0.47},{"s":"f","x":-2,"y":0.58},{"s":"f","x":-1.8,"y":0.7},{"s":"f","x":-1.6,"y":0.85},{"s":"f","x":-1.45,"y":1.1},{"s":"f","x":-1.37,"y":1.7},{"s":"f","x":-1.3,"y":1.2},{"s":"f","x":-1.2,"y":1},{"s":"f","x":-1.05,"y":0.95},{"s":"f","x":-0.95,"y":0.7},{"s":"f","x":-0.85,"y":0.4},{"s":"f","x":-0.75,"y":0.15},{"s":"f","x":-0.65,"y":0.12},{"s":"f","x":-0.55,"y":0.4},{"s":"f","x":-0.45,"y":0.9},{"s":"f","x":-0.35,"y":1.4},{"s":"f","x":-0.3,"y":2},{"s":"f","x":-0.15,"y":2},{"s":"f","x":-0.08,"y":1.2},{"s":"f","x":0,"y":0.6},{"s":"f","x":0.1,"y":0.4},{"s":"f","x":0.25,"y":0.35},{"s":"f","x":0.35,"y":0.5},{"s":"f","x":0.45,"y":0.35},{"s":"f","x":0.6,"y":0.2},{"s":"f","x":0.8,"y":0.2},{"s":"f","x":1.1,"y":0.25},{"s":"f","x":1.3,"y":0.2},{"s":"f","x":1.6,"y":0.22},{"s":"f","x":1.9,"y":0.18},{"s":"f","x":2.2,"y":0.2},{"s":"f","x":2.5,"y":0.16},{"s":"f","x":3,"y":0.15},{"s":"f","x":3.5,"y":0.14},{"s":"f","x":4,"y":0.12},{"s":"f","x":4.5,"y":0.1},{"s":"f","x":5,"y":0.09},{"s":"f","x":5.5,"y":0.08},{"s":"f","x":6,"y":0.08},
{"s":"gd","x":-8,"y":0},{"s":"gd","x":-6,"y":-0.005},{"s":"gd","x":-5,"y":-0.01},{"s":"gd","x":-4,"y":-0.03},{"s":"gd","x":-3.5,"y":-0.04},{"s":"gd","x":-3,"y":-0.06},{"s":"gd","x":-2.5,"y":-0.12},{"s":"gd","x":-2.2,"y":-0.16},{"s":"gd","x":-2,"y":-0.2},{"s":"gd","x":-1.8,"y":-0.26},{"s":"gd","x":-1.7,"y":-0.3},{"s":"gd","x":-1.6,"y":-0.38},{"s":"gd","x":-1.5,"y":-0.45},{"s":"gd","x":-1.35,"y":-0.5},{"s":"gd","x":-1.2,"y":-0.55},{"s":"gd","x":-1.1,"y":-0.5},{"s":"gd","x":-1,"y":-0.45},{"s":"gd","x":-0.9,"y":-0.5},{"s":"gd","x":-0.8,"y":-0.6},{"s":"gd","x":-0.7,"y":-0.75},{"s":"gd","x":-0.6,"y":-0.7},{"s":"gd","x":-0.5,"y":-0.6},{"s":"gd","x":-0.4,"y":-0.55},{"s":"gd","x":-0.3,"y":-0.4},{"s":"gd","x":-0.2,"y":-0.25},{"s":"gd","x":-0.1,"y":-0.12},{"s":"gd","x":0.05,"y":-0.05},{"s":"gd","x":0.2,"y":-0.06},{"s":"gd","x":0.35,"y":-0.1},{"s":"gd","x":0.5,"y":-0.2},{"s":"gd","x":0.65,"y":-0.35},{"s":"gd","x":0.8,"y":-0.5},{"s":"gd","x":0.95,"y":-0.8},{"s":"gd","x":1.05,"y":-1},{"s":"gd","x":1.5,"y":-1},{"s":"gd","x":1.6,"y":-0.7},{"s":"gd","x":1.7,"y":-0.45},{"s":"gd","x":1.85,"y":-0.4},{"s":"gd","x":2,"y":-0.45},{"s":"gd","x":2.2,"y":-0.5},{"s":"gd","x":2.4,"y":-0.43},{"s":"gd","x":2.6,"y":-0.42},{"s":"gd","x":2.8,"y":-0.45},{"s":"gd","x":3,"y":-0.55},{"s":"gd","x":3.15,"y":-0.42},{"s":"gd","x":3.5,"y":-0.35},{"s":"gd","x":4,"y":-0.27},{"s":"gd","x":4.5,"y":-0.22},{"s":"gd","x":5,"y":-0.18},{"s":"gd","x":5.3,"y":-0.2},{"s":"gd","x":5.5,"y":-0.17},{"s":"gd","x":5.7,"y":-0.15},{"s":"gd","x":6,"y":-0.12},
{"s":"vd","x":-8,"y":0},{"s":"vd","x":-6,"y":-0.005},{"s":"vd","x":-5,"y":-0.012},{"s":"vd","x":-4,"y":-0.03},{"s":"vd","x":-3,"y":-0.06},{"s":"vd","x":-2.5,"y":-0.12},{"s":"vd","x":-2,"y":-0.2},{"s":"vd","x":-1.8,"y":-0.3},{"s":"vd","x":-1.6,"y":-0.42},{"s":"vd","x":-1.5,"y":-0.5},{"s":"vd","x":-1.3,"y":-0.55},{"s":"vd","x":-1.15,"y":-0.48},{"s":"vd","x":-1,"y":-0.55},{"s":"vd","x":-0.8,"y":-0.65},{"s":"vd","x":-0.65,"y":-0.55},{"s":"vd","x":-0.5,"y":-0.7},{"s":"vd","x":-0.42,"y":-0.9},{"s":"vd","x":-0.35,"y":-0.6},{"s":"vd","x":-0.2,"y":-0.3},{"s":"vd","x":-0.05,"y":-0.08},{"s":"vd","x":0.1,"y":-0.04},{"s":"vd","x":0.3,"y":-0.1},{"s":"vd","x":0.5,"y":-0.22},{"s":"vd","x":0.7,"y":-0.4},{"s":"vd","x":0.9,"y":-0.75},{"s":"vd","x":1,"y":-1},{"s":"vd","x":1.5,"y":-1},{"s":"vd","x":1.58,"y":-0.6},{"s":"vd","x":1.7,"y":-0.45},{"s":"vd","x":1.85,"y":-0.5},{"s":"vd","x":1.95,"y":-0.85},{"s":"vd","x":2.02,"y":-0.5},{"s":"vd","x":2.2,"y":-0.42},{"s":"vd","x":2.5,"y":-0.4},{"s":"vd","x":2.8,"y":-0.42},{"s":"vd","x":3,"y":-0.6},{"s":"vd","x":3.1,"y":-0.42},{"s":"vd","x":3.5,"y":-0.33},{"s":"vd","x":4,"y":-0.26},{"s":"vd","x":4.5,"y":-0.22},{"s":"vd","x":5,"y":-0.17},{"s":"vd","x":5.5,"y":-0.18},{"s":"vd","x":6,"y":-0.12},
{"s":"fd","x":-8,"y":0},{"s":"fd","x":-6,"y":-0.005},{"s":"fd","x":-5,"y":-0.012},{"s":"fd","x":-4,"y":-0.035},{"s":"fd","x":-3,"y":-0.07},{"s":"fd","x":-2.5,"y":-0.13},{"s":"fd","x":-2,"y":-0.22},{"s":"fd","x":-1.7,"y":-0.33},{"s":"fd","x":-1.5,"y":-0.5},{"s":"fd","x":-1.3,"y":-0.6},{"s":"fd","x":-1.1,"y":-0.55},{"s":"fd","x":-0.95,"y":-0.75},{"s":"fd","x":-0.85,"y":-0.9},{"s":"fd","x":-0.75,"y":-1},{"s":"fd","x":-0.65,"y":-0.8},{"s":"fd","x":-0.5,"y":-0.6},{"s":"fd","x":-0.35,"y":-0.5},{"s":"fd","x":-0.2,"y":-0.7},{"s":"fd","x":-0.12,"y":-0.9},{"s":"fd","x":-0.05,"y":-0.5},{"s":"fd","x":0.1,"y":-0.07},{"s":"fd","x":0.3,"y":-0.12},{"s":"fd","x":0.5,"y":-0.3},{"s":"fd","x":0.65,"y":-0.6},{"s":"fd","x":0.75,"y":-1},{"s":"fd","x":1.5,"y":-1},{"s":"fd","x":1.6,"y":-0.5},{"s":"fd","x":1.7,"y":-0.35},{"s":"fd","x":1.85,"y":-0.4},{"s":"fd","x":2,"y":-0.35},{"s":"fd","x":2.3,"y":-0.45},{"s":"fd","x":2.5,"y":-0.38},{"s":"fd","x":2.8,"y":-0.4},{"s":"fd","x":3,"y":-0.5},{"s":"fd","x":3.2,"y":-0.38},{"s":"fd","x":3.6,"y":-0.3},{"s":"fd","x":4,"y":-0.25},{"s":"fd","x":4.5,"y":-0.2},{"s":"fd","x":5,"y":-0.16},{"s":"fd","x":5.5,"y":-0.17},{"s":"fd","x":6,"y":-0.11}
],
"p6":[
{"s":"v","x":-12,"y":0},{"s":"v","x":-11,"y":0.005},{"s":"v","x":-10,"y":0.017},{"s":"v","x":-9.5,"y":0.02},{"s":"v","x":-9,"y":0.022},{"s":"v","x":-8.5,"y":0.022},{"s":"v","x":-8,"y":0.022},{"s":"v","x":-7.5,"y":0.025},{"s":"v","x":-7,"y":0.03},{"s":"v","x":-6.5,"y":0.03},{"s":"v","x":-6,"y":0.03},{"s":"v","x":-5.7,"y":0.028},{"s":"v","x":-5.5,"y":0.017},{"s":"v","x":-5.2,"y":0.04},{"s":"v","x":-5,"y":0.05},{"s":"v","x":-4.5,"y":0.055},{"s":"v","x":-4,"y":0.064},{"s":"v","x":-3.5,"y":0.08},{"s":"v","x":-3,"y":0.1},{"s":"v","x":-2.7,"y":0.1},{"s":"v","x":-2.5,"y":0.11},{"s":"v","x":-2.3,"y":0.14},{"s":"v","x":-2.2,"y":0.17},{"s":"v","x":-2.1,"y":0.3},{"s":"v","x":-2.03,"y":0.51},{"s":"v","x":-1.95,"y":0.39},{"s":"v","x":-1.85,"y":0.4},{"s":"v","x":-1.78,"y":0.55},{"s":"v","x":-1.7,"y":0.8},{"s":"v","x":-1.62,"y":0.55},{"s":"v","x":-1.55,"y":0.39},{"s":"v","x":-1.45,"y":0.33},{"s":"v","x":-1.3,"y":0.28},{"s":"v","x":-1.2,"y":0.33},{"s":"v","x":-1.1,"y":0.36},{"s":"v","x":-1,"y":0.38},{"s":"v","x":-0.93,"y":0.5},{"s":"v","x":-0.9,"y":0.9},{"s":"v","x":-0.86,"y":0.5},{"s":"v","x":-0.8,"y":0.36},{"s":"v","x":-0.7,"y":0.4},{"s":"v","x":-0.6,"y":0.37},{"s":"v","x":-0.5,"y":0.38},{"s":"v","x":-0.35,"y":0.33},{"s":"v","x":-0.2,"y":0.28},{"s":"v","x":-0.1,"y":0.22},{"s":"v","x":0,"y":0.14},{"s":"v","x":0.1,"y":0.18},{"s":"v","x":0.2,"y":0.22},{"s":"v","x":0.35,"y":0.15},{"s":"v","x":0.5,"y":0.11},{"s":"v","x":0.7,"y":0.14},{"s":"v","x":0.8,"y":0.3},{"s":"v","x":0.9,"y":0.6},{"s":"v","x":0.97,"y":0.45},{"s":"v","x":1.05,"y":0.28},{"s":"v","x":1.15,"y":0.15},{"s":"v","x":1.2,"y":0.11},{"s":"v","x":1.3,"y":0.2},{"s":"v","x":1.4,"y":0.33},{"s":"v","x":1.5,"y":0.3},{"s":"v","x":1.6,"y":0.25},{"s":"v","x":1.75,"y":0.39},{"s":"v","x":1.9,"y":0.45},{"s":"v","x":1.97,"y":0.55},{"s":"v","x":2.05,"y":0.8},{"s":"v","x":2.1,"y":0.98},{"s":"v","x":2.17,"y":0.75},{"s":"v","x":2.25,"y":0.5},{"s":"v","x":2.35,"y":0.42},{"s":"v","x":2.45,"y":0.35},{"s":"v","x":2.6,"y":0.28},{"s":"v","x":2.7,"y":0.35},{"s":"v","x":2.8,"y":0.28},{"s":"v","x":3,"y":0.22},{"s":"v","x":3.2,"y":0.24},{"s":"v","x":3.5,"y":0.2},{"s":"v","x":3.8,"y":0.18},{"s":"v","x":4,"y":0.14},{"s":"v","x":4.3,"y":0.12},{"s":"v","x":4.5,"y":0.11},{"s":"v","x":4.8,"y":0.08},{"s":"v","x":5,"y":0.06},{"s":"v","x":5.3,"y":0.07},{"s":"v","x":5.5,"y":0.09},{"s":"v","x":5.6,"y":0.13},{"s":"v","x":5.7,"y":0.1},{"s":"v","x":6,"y":0.1},
{"s":"g","x":-12,"y":0},{"s":"g","x":-11,"y":0.005},{"s":"g","x":-10,"y":0.01},{"s":"g","x":-9,"y":0.012},{"s":"g","x":-8,"y":0.012},{"s":"g","x":-7,"y":0.015},{"s":"g","x":-6,"y":0.02},{"s":"g","x":-5,"y":0.03},{"s":"g","x":-4,"y":0.04},{"s":"g","x":-3,"y":0.06},{"s":"g","x":-2.5,"y":0.08},{"s":"g","x":-2.2,"y":0.1},{"s":"g","x":-2,"y":0.22},{"s":"g","x":-1.8,"y":0.27},{"s":"g","x":-1.6,"y":0.3},{"s":"g","x":-1.4,"y":0.28},{"s":"g","x":-1.2,"y":0.25},{"s":"g","x":-1,"y":0.22},{"s":"g","x":-0.8,"y":0.18},{"s":"g","x":-0.6,"y":0.15},{"s":"g","x":-0.4,"y":0.1},{"s":"g","x":-0.2,"y":0.05},{"s":"g","x":0,"y":0.02},{"s":"g","x":0.2,"y":0.04},{"s":"g","x":0.4,"y":0.06},{"s":"g","x":0.6,"y":0.08},{"s":"g","x":0.8,"y":0.1},{"s":"g","x":1,"y":0.08},{"s":"g","x":1.2,"y":0.07},{"s":"g","x":1.4,"y":0.15},{"s":"g","x":1.5,"y":0.18},{"s":"g","x":1.6,"y":0.15},{"s":"g","x":1.8,"y":0.12},{"s":"g","x":2,"y":0.14},{"s":"g","x":2.2,"y":0.13},{"s":"g","x":2.5,"y":0.11},{"s":"g","x":3,"y":0.09},{"s":"g","x":3.5,"y":0.08},{"s":"g","x":4,"y":0.06},{"s":"g","x":4.5,"y":0.05},{"s":"g","x":5,"y":0.04},{"s":"g","x":5.5,"y":0.04},{"s":"g","x":6,"y":0.03},
{"s":"f","x":-12,"y":0},{"s":"f","x":-10,"y":0.012},{"s":"f","x":-8,"y":0.015},{"s":"f","x":-7,"y":0.02},{"s":"f","x":-6,"y":0.025},{"s":"f","x":-5,"y":0.035},{"s":"f","x":-4,"y":0.045},{"s":"f","x":-3,"y":0.065},{"s":"f","x":-2.5,"y":0.085},{"s":"f","x":-2.2,"y":0.12},{"s":"f","x":-2.05,"y":0.3},{"s":"f","x":-1.9,"y":0.3},{"s":"f","x":-1.7,"y":0.33},{"s":"f","x":-1.5,"y":0.3},{"s":"f","x":-1.3,"y":0.27},{"s":"f","x":-1,"y":0.23},{"s":"f","x":-0.8,"y":0.2},{"s":"f","x":-0.6,"y":0.05},{"s":"f","x":-0.5,"y":0.12},{"s":"f","x":-0.3,"y":0.08},{"s":"f","x":-0.1,"y":0.04},{"s":"f","x":0.1,"y":0.04},{"s":"f","x":0.3,"y":0.06},{"s":"f","x":0.5,"y":0.08},{"s":"f","x":0.7,"y":0.1},{"s":"f","x":0.9,"y":0.12},{"s":"f","x":1.1,"y":0.1},{"s":"f","x":1.3,"y":0.2},{"s":"f","x":1.45,"y":0.53},{"s":"f","x":1.55,"y":0.3},{"s":"f","x":1.7,"y":0.2},{"s":"f","x":1.9,"y":0.15},{"s":"f","x":2.1,"y":0.16},{"s":"f","x":2.4,"y":0.12},{"s":"f","x":2.8,"y":0.1},{"s":"f","x":3.2,"y":0.09},{"s":"f","x":3.6,"y":0.08},{"s":"f","x":4,"y":0.07},{"s":"f","x":4.5,"y":0.06},{"s":"f","x":5,"y":0.05},{"s":"f","x":5.5,"y":0.05},{"s":"f","x":6,"y":0.04},
{"s":"gd","x":-12,"y":0},{"s":"gd","x":-10,"y":-0.005},{"s":"gd","x":-8,"y":-0.01},{"s":"gd","x":-7,"y":-0.012},{"s":"gd","x":-6,"y":-0.02},{"s":"gd","x":-5,"y":-0.03},{"s":"gd","x":-4,"y":-0.04},{"s":"gd","x":-3.5,"y":-0.05},{"s":"gd","x":-3,"y":-0.06},{"s":"gd","x":-2.5,"y":-0.09},{"s":"gd","x":-2.2,"y":-0.12},{"s":"gd","x":-2,"y":-0.17},{"s":"gd","x":-1.8,"y":-0.22},{"s":"gd","x":-1.6,"y":-0.25},{"s":"gd","x":-1.4,"y":-0.22},{"s":"gd","x":-1.2,"y":-0.2},{"s":"gd","x":-1,"y":-0.22},{"s":"gd","x":-0.8,"y":-0.21},{"s":"gd","x":-0.6,"y":-0.19},{"s":"gd","x":-0.4,"y":-0.17},{"s":"gd","x":-0.2,"y":-0.14},{"s":"gd","x":-0.1,"y":-0.1},{"s":"gd","x":0,"y":-0.02},{"s":"gd","x":0.1,"y":-0.04},{"s":"gd","x":0.2,"y":-0.07},{"s":"gd","x":0.35,"y":-0.15},{"s":"gd","x":0.5,"y":-0.22},{"s":"gd","x":0.65,"y":-0.2},{"s":"gd","x":0.8,"y":-0.2},{"s":"gd","x":1,"y":-0.25},{"s":"gd","x":1.2,"y":-0.2},{"s":"gd","x":1.35,"y":-0.25},{"s":"gd","x":1.5,"y":-0.3},{"s":"gd","x":1.7,"y":-0.22},{"s":"gd","x":1.85,"y":-0.25},{"s":"gd","x":2,"y":-0.3},{"s":"gd","x":2.2,"y":-0.25},{"s":"gd","x":2.4,"y":-0.2},{"s":"gd","x":2.6,"y":-0.16},{"s":"gd","x":3,"y":-0.12},{"s":"gd","x":3.5,"y":-0.1},{"s":"gd","x":4,"y":-0.08},{"s":"gd","x":4.5,"y":-0.06},{"s":"gd","x":5,"y":-0.04},{"s":"gd","x":5.5,"y":-0.05},{"s":"gd","x":6,"y":-0.05},
{"s":"vd","x":-12,"y":0},{"s":"vd","x":-10,"y":-0.005},{"s":"vd","x":-8,"y":-0.01},{"s":"vd","x":-6,"y":-0.02},{"s":"vd","x":-5,"y":-0.03},{"s":"vd","x":-4,"y":-0.04},{"s":"vd","x":-3,"y":-0.06},{"s":"vd","x":-2.5,"y":-0.09},{"s":"vd","x":-2,"y":-0.17},{"s":"vd","x":-1.8,"y":-0.22},{"s":"vd","x":-1.6,"y":-0.2},{"s":"vd","x":-1.4,"y":-0.25},{"s":"vd","x":-1.2,"y":-0.22},{"s":"vd","x":-1,"y":-0.23},{"s":"vd","x":-0.8,"y":-0.2},{"s":"vd","x":-0.6,"y":-0.2},{"s":"vd","x":-0.4,"y":-0.17},{"s":"vd","x":-0.2,"y":-0.15},{"s":"vd","x":-0.05,"y":-0.05},{"s":"vd","x":0.1,"y":-0.05},{"s":"vd","x":0.2,"y":-0.1},{"s":"vd","x":0.3,"y":-0.22},{"s":"vd","x":0.4,"y":-0.15},{"s":"vd","x":0.5,"y":-0.25},{"s":"vd","x":0.6,"y":-0.2},{"s":"vd","x":0.7,"y":-0.28},{"s":"vd","x":0.8,"y":-0.18},{"s":"vd","x":0.95,"y":-0.22},{"s":"vd","x":1.1,"y":-0.3},{"s":"vd","x":1.2,"y":-0.2},{"s":"vd","x":1.35,"y":-0.25},{"s":"vd","x":1.5,"y":-0.22},{"s":"vd","x":1.7,"y":-0.28},{"s":"vd","x":1.85,"y":-0.22},{"s":"vd","x":2,"y":-0.3},{"s":"vd","x":2.2,"y":-0.25},{"s":"vd","x":2.5,"y":-0.18},{"s":"vd","x":3,"y":-0.12},{"s":"vd","x":3.5,"y":-0.1},{"s":"vd","x":4,"y":-0.08},{"s":"vd","x":4.5,"y":-0.06},{"s":"vd","x":5,"y":-0.04},{"s":"vd","x":5.5,"y":-0.05},{"s":"vd","x":6,"y":-0.05},
{"s":"fd","x":-12,"y":0},{"s":"fd","x":-10,"y":-0.006},{"s":"fd","x":-8,"y":-0.012},{"s":"fd","x":-6,"y":-0.022},{"s":"fd","x":-5,"y":-0.032},{"s":"fd","x":-4,"y":-0.045},{"s":"fd","x":-3,"y":-0.065},{"s":"fd","x":-2.5,"y":-0.1},{"s":"fd","x":-2,"y":-0.19},{"s":"fd","x":-1.8,"y":-0.22},{"s":"fd","x":-1.65,"y":-0.27},{"s":"fd","x":-1.55,"y":-0.22},{"s":"fd","x":-1.3,"y":-0.22},{"s":"fd","x":-1,"y":-0.2},{"s":"fd","x":-0.7,"y":-0.2},{"s":"fd","x":-0.4,"y":-0.18},{"s":"fd","x":-0.2,"y":-0.14},{"s":"fd","x":-0.05,"y":-0.06},{"s":"fd","x":0.1,"y":-0.04},{"s":"fd","x":0.3,"y":-0.1},{"s":"fd","x":0.5,"y":-0.18},{"s":"fd","x":0.8,"y":-0.2},{"s":"fd","x":1,"y":-0.22},{"s":"fd","x":1.3,"y":-0.25},{"s":"fd","x":1.6,"y":-0.3},{"s":"fd","x":1.8,"y":-0.35},{"s":"fd","x":1.95,"y":-0.45},{"s":"fd","x":2,"y":-0.53},{"s":"fd","x":2.07,"y":-0.4},{"s":"fd","x":2.2,"y":-0.28},{"s":"fd","x":2.5,"y":-0.18},{"s":"fd","x":3,"y":-0.13},{"s":"fd","x":3.5,"y":-0.1},{"s":"fd","x":4,"y":-0.08},{"s":"fd","x":4.5,"y":-0.06},{"s":"fd","x":5,"y":-0.05},{"s":"fd","x":5.5,"y":-0.05},{"s":"fd","x":6,"y":-0.05}
]
},
"columns":3,
"spacing":{"row":39,"column":36},
"bounds":"flush",
"resolve":{"scale":{"fill":"independent","strokeDash":"independent"},"legend":{"fill":"independent","strokeDash":"independent"}},
"concat":[
{"width":363,"height":361,"data":{"name":"p1"},"resolve":{"axis":{"x":"independent","y":"independent"}},
"layer":[
{"transform":[{"filter":"datum.s=='a'"}],"mark":{"type":"area","clip":true,"opacity":1},
 "encoding":{"x":{"field":"x","type":"quantitative","scale":{"domain":[-12,6],"nice":false,"zero":false},"axis":{"orient":"bottom","values":[-12,-11,-10,-9,-8,-7,-6,-5,-4,-3,-2,-1,0,1,2,3,4,5,6],"labels":false,"title":null}},
  "y":{"field":"y","type":"quantitative","scale":{"domain":[0,3],"nice":false},"axis":{"orient":"left","values":[0,0.5,1,1.5,2,2.5,3],"labelExpr":"datum.value % 1 == 0 ? '' + datum.value : ''","title":"DOS (states/ev/atom)"}},
  "fill":{"datum":"Al₃Ti","type":"nominal","scale":{"domain":["Al₃Sc","Al₃Ti"],"range":["#dcdcdc","black"]},
   "legend":{"orient":"none","legendX":44,"legendY":47,"direction":"vertical","title":null,"symbolType":"square","symbolSize":225,"symbolStrokeColor":"black","symbolStrokeWidth":1,"labelFontSize":21,"labelColor":"black","labelOffset":23,"rowPadding":27,"padding":0,"encode":{"symbols":{"update":{"stroke":{"value":"black"},"strokeWidth":{"value":1}}}}}}}},
{"transform":[{"filter":"datum.s=='b'"}],"mark":{"type":"area","clip":true,"opacity":1},
 "encoding":{"x":{"field":"x","type":"quantitative","scale":{"domain":[-12,6],"nice":false,"zero":false},"axis":null},
  "y":{"field":"y","type":"quantitative","scale":{"domain":[0,3],"nice":false},"axis":null},
  "fill":{"datum":"Al₃Sc","type":"nominal","scale":{"domain":["Al₃Sc","Al₃Ti"],"range":["#dcdcdc","black"]},
   "legend":{"orient":"none","legendX":44,"legendY":47,"direction":"vertical","title":null,"symbolType":"square","symbolSize":225,"symbolStrokeColor":"black","symbolStrokeWidth":1,"labelFontSize":21,"labelColor":"black","labelOffset":23,"rowPadding":27,"padding":0,"encode":{"symbols":{"update":{"stroke":{"value":"black"},"strokeWidth":{"value":1}}}}}}}},
{"transform":[{"filter":"datum.s=='c'"}],"mark":{"type":"line","clip":true,"stroke":"black","strokeWidth":1,"strokeDash":[1.5,2.5]},
 "encoding":{"x":{"field":"x","type":"quantitative","scale":{"domain":[-12,6],"nice":false,"zero":false},"axis":{"orient":"top","values":[-12,-11,-10,-9,-8,-7,-6,-5,-4,-3,-2,-1,0,1,2,3,4,5,6],"labels":false,"title":null}},
  "y":{"field":"y","type":"quantitative","scale":{"domain":[0,3],"nice":false},"axis":{"orient":"right","values":[0,0.5,1,1.5,2,2.5,3],"labels":false,"title":null}}}},
{"transform":[{"filter":"datum.s=='a'"}],"mark":{"type":"line","clip":true,"stroke":"black","strokeWidth":1.2},
 "encoding":{"x":{"field":"x","type":"quantitative","scale":{"domain":[-12,6],"nice":false,"zero":false},"axis":null},
  "y":{"field":"y","type":"quantitative","scale":{"domain":[0,3],"nice":false},"axis":null}}},
{"data":{"values":[{}]},"mark":{"type":"rule","stroke":"black","strokeWidth":1,"strokeDash":[7,3,1.5,3]},
 "encoding":{"x":{"datum":0,"type":"quantitative","scale":{"domain":[-12,6],"nice":false,"zero":false},"axis":null}}},
{"data":{"values":[{}]},"mark":{"type":"text","text":"Total","fontSize":20,"fill":"black","align":"center","baseline":"alphabetic"},
 "encoding":{"x":{"datum":-2.83,"type":"quantitative","scale":{"domain":[-12,6],"nice":false,"zero":false},"axis":null},"y":{"datum":3.12,"type":"quantitative","scale":{"domain":[0,3],"nice":false},"axis":null}}}
]},
{"width":363,"height":361,"data":{"name":"p2"},"resolve":{"axis":{"x":"independent","y":"independent"}},
"layer":[
{"transform":[{"filter":"datum.s=='a'"}],"mark":{"type":"area","clip":true,"opacity":1,"fill":"black"},
 "encoding":{"x":{"field":"x","type":"quantitative","scale":{"domain":[-12,6],"nice":false,"zero":false},"axis":{"orient":"bottom","values":[-12,-11,-10,-9,-8,-7,-6,-5,-4,-3,-2,-1,0,1,2,3,4,5,6],"labels":false,"title":null}},
  "y":{"field":"y","type":"quantitative","scale":{"domain":[0,3],"nice":false},"axis":{"orient":"left","values":[0,0.5,1,1.5,2,2.5,3],"labels":false,"title":null}}}},
{"transform":[{"filter":"datum.s=='b'"}],"mark":{"type":"area","clip":true,"opacity":1,"fill":"#dcdcdc"},
 "encoding":{"x":{"field":"x","type":"quantitative","scale":{"domain":[-12,6],"nice":false,"zero":false},"axis":null},
  "y":{"field":"y","type":"quantitative","scale":{"domain":[0,3],"nice":false},"axis":null}}},
{"transform":[{"filter":"datum.s=='c'"}],"mark":{"type":"line","clip":true,"stroke":"black","strokeWidth":1,"strokeDash":[1.5,2.5]},
 "encoding":{"x":{"field":"x","type":"quantitative","scale":{"domain":[-12,6],"nice":false,"zero":false},"axis":{"orient":"top","values":[-12,-11,-10,-9,-8,-7,-6,-5,-4,-3,-2,-1,0,1,2,3,4,5,6],"labels":false,"title":null}},
  "y":{"field":"y","type":"quantitative","scale":{"domain":[0,3],"nice":false},"axis":{"orient":"right","values":[0,0.5,1,1.5,2,2.5,3],"labels":false,"title":null}}}},
{"transform":[{"filter":"datum.s=='a'"}],"mark":{"type":"line","clip":true,"stroke":"black","strokeWidth":1.2},
 "encoding":{"x":{"field":"x","type":"quantitative","scale":{"domain":[-12,6],"nice":false,"zero":false},"axis":null},
  "y":{"field":"y","type":"quantitative","scale":{"domain":[0,3],"nice":false},"axis":null}}},
{"data":{"values":[{}]},"mark":{"type":"rule","stroke":"black","strokeWidth":1,"strokeDash":[7,3,1.5,3]},
 "encoding":{"x":{"datum":0,"type":"quantitative","scale":{"domain":[-12,6],"nice":false,"zero":false},"axis":null}}},
{"data":{"values":[{}]},"mark":{"type":"text","text":"d","fontSize":20,"fill":"black","fontStyle":"italic","align":"left","baseline":"alphabetic"},"encoding":{"x":{"datum":-7.59,"type":"quantitative","scale":{"domain":[-12,6],"nice":false,"zero":false},"axis":null},"y":{"datum":3.13,"type":"quantitative","scale":{"domain":[0,3],"nice":false},"axis":null}}},
{"data":{"values":[{}]},"mark":{"type":"text","text":"z","fontSize":13,"fill":"black","fontStyle":"italic","align":"left","baseline":"alphabetic"},"encoding":{"x":{"datum":-7.09,"type":"quantitative","scale":{"domain":[-12,6],"nice":false,"zero":false},"axis":null},"y":{"datum":3.09,"type":"quantitative","scale":{"domain":[0,3],"nice":false},"axis":null}}},
{"data":{"values":[{}]},"mark":{"type":"text","text":"2","fontSize":9,"fill":"black","align":"left","baseline":"alphabetic"},"encoding":{"x":{"datum":-6.76,"type":"quantitative","scale":{"domain":[-12,6],"nice":false,"zero":false},"axis":null},"y":{"datum":3.17,"type":"quantitative","scale":{"domain":[0,3],"nice":false},"axis":null}}},
{"data":{"values":[{}]},"mark":{"type":"text","text":"+","fontSize":20,"fill":"black","align":"left","baseline":"alphabetic"},"encoding":{"x":{"datum":-6.3,"type":"quantitative","scale":{"domain":[-12,6],"nice":false,"zero":false},"axis":null},"y":{"datum":3.13,"type":"quantitative","scale":{"domain":[0,3],"nice":false},"axis":null}}},
{"data":{"values":[{}]},"mark":{"type":"text","text":"d","fontSize":20,"fill":"black","fontStyle":"italic","align":"left","baseline":"alphabetic"},"encoding":{"x":{"datum":-5.4,"type":"quantitative","scale":{"domain":[-12,6],"nice":false,"zero":false},"axis":null},"y":{"datum":3.13,"type":"quantitative","scale":{"domain":[0,3],"nice":false},"axis":null}}},
{"data":{"values":[{}]},"mark":{"type":"text","text":"xz","fontSize":13,"fill":"black","fontStyle":"italic","align":"left","baseline":"alphabetic"},"encoding":{"x":{"datum":-4.86,"type":"quantitative","scale":{"domain":[-12,6],"nice":false,"zero":false},"axis":null},"y":{"datum":3.09,"type":"quantitative","scale":{"domain":[0,3],"nice":false},"axis":null}}},
{"data":{"values":[{}]},"mark":{"type":"text","text":"+","fontSize":20,"fill":"black","align":"left","baseline":"alphabetic"},"encoding":{"x":{"datum":-3.8,"type":"quantitative","scale":{"domain":[-12,6],"nice":false,"zero":false},"axis":null},"y":{"datum":3.13,"type":"quantitative","scale":{"domain":[0,3],"nice":false},"axis":null}}},
{"data":{"values":[{}]},"mark":{"type":"text","text":"d","fontSize":20,"fill":"black","fontStyle":"italic","align":"left","baseline":"alphabetic"},"encoding":{"x":{"datum":-2.95,"type":"quantitative","scale":{"domain":[-12,6],"nice":false,"zero":false},"axis":null},"y":{"datum":3.13,"type":"quantitative","scale":{"domain":[0,3],"nice":false},"axis":null}}},
{"data":{"values":[{}]},"mark":{"type":"text","text":"yz","fontSize":13,"fill":"black","fontStyle":"italic","align":"left","baseline":"alphabetic"},"encoding":{"x":{"datum":-2.42,"type":"quantitative","scale":{"domain":[-12,6],"nice":false,"zero":false},"axis":null},"y":{"datum":3.09,"type":"quantitative","scale":{"domain":[0,3],"nice":false},"axis":null}}},
{"data":{"values":[{}]},"mark":{"type":"text","text":"+","fontSize":20,"fill":"black","align":"left","baseline":"alphabetic"},"encoding":{"x":{"datum":-1.44,"type":"quantitative","scale":{"domain":[-12,6],"nice":false,"zero":false},"axis":null},"y":{"datum":3.13,"type":"quantitative","scale":{"domain":[0,3],"nice":false},"axis":null}}},
{"data":{"values":[{}]},"mark":{"type":"text","text":"d","fontSize":20,"fill":"black","fontStyle":"italic","align":"left","baseline":"alphabetic"},"encoding":{"x":{"datum":-0.65,"type":"quantitative","scale":{"domain":[-12,6],"nice":false,"zero":false},"axis":null},"y":{"datum":3.13,"type":"quantitative","scale":{"domain":[0,3],"nice":false},"axis":null}}},
{"data":{"values":[{}]},"mark":{"type":"text","text":"x","fontSize":13,"fill":"black","fontStyle":"italic","align":"left","baseline":"alphabetic"},"encoding":{"x":{"datum":-0.12,"type":"quantitative","scale":{"domain":[-12,6],"nice":false,"zero":false},"axis":null},"y":{"datum":3.09,"type":"quantitative","scale":{"domain":[0,3],"nice":false},"axis":null}}},
{"data":{"values":[{}]},"mark":{"type":"text","text":"2","fontSize":9,"fill":"black","align":"left","baseline":"alphabetic"},"encoding":{"x":{"datum":0.2,"type":"quantitative","scale":{"domain":[-12,6],"nice":false,"zero":false},"axis":null},"y":{"datum":3.17,"type":"quantitative","scale":{"domain":[0,3],"nice":false},"axis":null}}},
{"data":{"values":[{}]},"mark":{"type":"text","text":"+","fontSize":12,"fill":"black","align":"left","baseline":"alphabetic"},"encoding":{"x":{"datum":0.42,"type":"quantitative","scale":{"domain":[-12,6],"nice":false,"zero":false},"axis":null},"y":{"datum":3.09,"type":"quantitative","scale":{"domain":[0,3],"nice":false},"axis":null}}},
{"data":{"values":[{}]},"mark":{"type":"text","text":"y","fontSize":13,"fill":"black","fontStyle":"italic","align":"left","baseline":"alphabetic"},"encoding":{"x":{"datum":0.8,"type":"quantitative","scale":{"domain":[-12,6],"nice":false,"zero":false},"axis":null},"y":{"datum":3.09,"type":"quantitative","scale":{"domain":[0,3],"nice":false},"axis":null}}},
{"data":{"values":[{}]},"mark":{"type":"text","text":"2","fontSize":9,"fill":"black","align":"left","baseline":"alphabetic"},"encoding":{"x":{"datum":1.15,"type":"quantitative","scale":{"domain":[-12,6],"nice":false,"zero":false},"axis":null},"y":{"datum":3.17,"type":"quantitative","scale":{"domain":[0,3],"nice":false},"axis":null}}}
]},
{"width":363,"height":361,"data":{"name":"p3"},"resolve":{"axis":{"x":"independent","y":"independent"}},
"layer":[
{"transform":[{"filter":"datum.s=='a'"}],"mark":{"type":"area","clip":true,"opacity":1,"fill":"black"},
 "encoding":{"x":{"field":"x","type":"quantitative","scale":{"domain":[-12,6],"nice":false,"zero":false},"axis":{"orient":"bottom","values":[-12,-11,-10,-9,-8,-7,-6,-5,-4,-3,-2,-1,0,1,2,3,4,5,6],"labels":false,"title":null}},
  "y":{"field":"y","type":"quantitative","scale":{"domain":[0,3],"nice":false},"axis":{"orient":"left","values":[0,0.5,1,1.5,2,2.5,3],"labels":false,"title":null}}}},
{"transform":[{"filter":"datum.s=='b'"}],"mark":{"type":"area","clip":true,"opacity":1,"fill":"#dcdcdc"},
 "encoding":{"x":{"field":"x","type":"quantitative","scale":{"domain":[-12,6],"nice":false,"zero":false},"axis":null},
  "y":{"field":"y","type":"quantitative","scale":{"domain":[0,3],"nice":false},"axis":null}}},
{"transform":[{"filter":"datum.s=='c'"}],"mark":{"type":"line","clip":true,"stroke":"black","strokeWidth":1,"strokeDash":[1.5,2.5]},
 "encoding":{"x":{"field":"x","type":"quantitative","scale":{"domain":[-12,6],"nice":false,"zero":false},"axis":{"orient":"top","values":[-12,-11,-10,-9,-8,-7,-6,-5,-4,-3,-2,-1,0,1,2,3,4,5,6],"labels":false,"title":null}},
  "y":{"field":"y","type":"quantitative","scale":{"domain":[0,3],"nice":false},"axis":{"orient":"right","values":[0,0.5,1,1.5,2,2.5,3],"labels":false,"title":null}}}},
{"transform":[{"filter":"datum.s=='a'"}],"mark":{"type":"line","clip":true,"stroke":"black","strokeWidth":1.2},
 "encoding":{"x":{"field":"x","type":"quantitative","scale":{"domain":[-12,6],"nice":false,"zero":false},"axis":null},
  "y":{"field":"y","type":"quantitative","scale":{"domain":[0,3],"nice":false},"axis":null}}},
{"data":{"values":[{}]},"mark":{"type":"rule","stroke":"black","strokeWidth":1,"strokeDash":[7,3,1.5,3]},
 "encoding":{"x":{"datum":0,"type":"quantitative","scale":{"domain":[-12,6],"nice":false,"zero":false},"axis":null}}},
{"data":{"values":[{}]},"mark":{"type":"text","text":"s","fontSize":20,"fill":"black","fontStyle":"italic","align":"left","baseline":"alphabetic"},"encoding":{"x":{"datum":-3.77,"type":"quantitative","scale":{"domain":[-12,6],"nice":false,"zero":false},"axis":null},"y":{"datum":3.13,"type":"quantitative","scale":{"domain":[0,3],"nice":false},"axis":null}}},
{"data":{"values":[{}]},"mark":{"type":"text","text":"+","fontSize":20,"fill":"black","align":"left","baseline":"alphabetic"},"encoding":{"x":{"datum":-3.1,"type":"quantitative","scale":{"domain":[-12,6],"nice":false,"zero":false},"axis":null},"y":{"datum":3.13,"type":"quantitative","scale":{"domain":[0,3],"nice":false},"axis":null}}},
{"data":{"values":[{}]},"mark":{"type":"text","text":"d","fontSize":20,"fill":"black","fontStyle":"italic","align":"left","baseline":"alphabetic"},"encoding":{"x":{"datum":-2.2,"type":"quantitative","scale":{"domain":[-12,6],"nice":false,"zero":false},"axis":null},"y":{"datum":3.13,"type":"quantitative","scale":{"domain":[0,3],"nice":false},"axis":null}}},
{"data":{"values":[{}]},"mark":{"type":"text","text":"xy","fontSize":13,"fill":"black","fontStyle":"italic","align":"left","baseline":"alphabetic"},"encoding":{"x":{"datum":-1.65,"type":"quantitative","scale":{"domain":[-12,6],"nice":false,"zero":false},"axis":null},"y":{"datum":3.09,"type":"quantitative","scale":{"domain":[0,3],"nice":false},"axis":null}}}
]},
{"width":363,"height":361,"data":{"name":"p4"},"resolve":{"axis":{"x":"independent","y":"independent"}},
"layer":[
{"transform":[{"filter":"datum.s=='v'"}],"mark":{"type":"area","clip":true,"opacity":1},
 "encoding":{"x":{"field":"x","type":"quantitative","scale":{"domain":[-12,6],"nice":false,"zero":false},"axis":{"orient":"bottom","values":[-12,-11,-10,-9,-8,-7,-6,-5,-4,-3,-2,-1,0,1,2,3,4,5,6],"labelExpr":"datum.value % 3 == 0 ? '' + datum.value : ''","title":"Energy (eV)"}},
  "y":{"field":"y","type":"quantitative","scale":{"domain":[-1,2],"nice":false},"axis":{"orient":"left","values":[-1,-0.5,0,0.5,1,1.5,2],"labelExpr":"datum.value % 1 == 0 ? '' + datum.value : ''","title":"DOS (states/ev/atom)"}},
  "fill":{"datum":"V","type":"nominal","scale":{"domain":["V","AFM"],"range":["black","#dcdcdc"]},
   "legend":{"orient":"none","legendX":46,"legendY":49,"direction":"vertical","title":null,"symbolType":"square","symbolSize":225,"symbolStrokeColor":"black","symbolStrokeWidth":1,"labelFontSize":21,"labelColor":"black","labelOffset":16,"rowPadding":25,"padding":0,"labelExpr":"datum.value == 'V' ? 'Al₃V' : 'Al₃Cr'","encode":{"symbols":{"update":{"stroke":{"value":"black"},"strokeWidth":{"value":1}}}}}}}},
{"transform":[{"filter":"datum.s=='g'"}],"mark":{"type":"area","clip":true,"opacity":1},
 "encoding":{"x":{"field":"x","type":"quantitative","scale":{"domain":[-12,6],"nice":false,"zero":false},"axis":null},
  "y":{"field":"y","type":"quantitative","scale":{"domain":[-1,2],"nice":false},"axis":null},
  "fill":{"datum":"AFM","type":"nominal","scale":{"domain":["V","AFM"],"range":["black","#dcdcdc"]},
   "legend":{"orient":"none","legendX":46,"legendY":49,"direction":"vertical","title":null,"symbolType":"square","symbolSize":225,"symbolStrokeColor":"black","symbolStrokeWidth":1,"labelFontSize":21,"labelColor":"black","labelOffset":16,"rowPadding":25,"padding":0,"labelExpr":"datum.value == 'V' ? 'Al₃V' : 'Al₃Cr'","encode":{"symbols":{"update":{"stroke":{"value":"black"},"strokeWidth":{"value":1}}}}}}}},
{"transform":[{"filter":"datum.s=='gd'"}],"mark":{"type":"area","clip":true,"opacity":1,"fill":"#dcdcdc"},
 "encoding":{"x":{"field":"x","type":"quantitative","scale":{"domain":[-12,6],"nice":false,"zero":false},"axis":null},
  "y":{"field":"y","type":"quantitative","scale":{"domain":[-1,2],"nice":false},"axis":null}}},
{"transform":[{"filter":"datum.s=='f'"}],"mark":{"type":"line","clip":true,"stroke":"black","strokeWidth":1.2},
 "encoding":{"x":{"field":"x","type":"quantitative","scale":{"domain":[-12,6],"nice":false,"zero":false},"axis":{"orient":"top","values":[-12,-11,-10,-9,-8,-7,-6,-5,-4,-3,-2,-1,0,1,2,3,4,5,6],"labels":false,"title":null}},
  "y":{"field":"y","type":"quantitative","scale":{"domain":[-1,2],"nice":false},"axis":{"orient":"right","values":[-1,-0.5,0,0.5,1,1.5,2],"labels":false,"title":null}},
  "strokeDash":{"datum":"FM","type":"nominal","scale":{"domain":["FM"],"range":[[5,3]]},
   "legend":{"orient":"none","legendX":46,"legendY":141,"direction":"vertical","title":null,"symbolType":"square","symbolSize":225,"symbolStrokeColor":"black","labelFontSize":21,"labelColor":"black","labelOffset":16,"padding":0,"labelExpr":"'Al₃Cr'","encode":{"symbols":{"update":{"stroke":{"value":"black"},"fill":{"value":"transparent"},"strokeWidth":{"value":1.2}}}}}}}},
{"transform":[{"filter":"datum.s=='fd'"}],"mark":{"type":"line","clip":true,"stroke":"black","strokeWidth":1.2},
 "encoding":{"x":{"field":"x","type":"quantitative","scale":{"domain":[-12,6],"nice":false,"zero":false},"axis":null},
  "y":{"field":"y","type":"quantitative","scale":{"domain":[-1,2],"nice":false},"axis":null},
  "strokeDash":{"datum":"FM","type":"nominal","scale":{"domain":["FM"],"range":[[5,3]]},
   "legend":{"orient":"none","legendX":46,"legendY":141,"direction":"vertical","title":null,"symbolType":"square","symbolSize":225,"symbolStrokeColor":"black","labelFontSize":21,"labelColor":"black","labelOffset":16,"padding":0,"labelExpr":"'Al₃Cr'","encode":{"symbols":{"update":{"stroke":{"value":"black"},"fill":{"value":"transparent"},"strokeWidth":{"value":1.2}}}}}}}},
{"transform":[{"filter":"datum.s=='v'"}],"mark":{"type":"line","clip":true,"stroke":"black","strokeWidth":1.2},
 "encoding":{"x":{"field":"x","type":"quantitative","scale":{"domain":[-12,6],"nice":false,"zero":false},"axis":null},
  "y":{"field":"y","type":"quantitative","scale":{"domain":[-1,2],"nice":false},"axis":null}}},
{"transform":[{"filter":"datum.s=='vd'"}],"mark":{"type":"line","clip":true,"stroke":"black","strokeWidth":1.2},
 "encoding":{"x":{"field":"x","type":"quantitative","scale":{"domain":[-12,6],"nice":false,"zero":false},"axis":null},
  "y":{"field":"y","type":"quantitative","scale":{"domain":[-1,2],"nice":false},"axis":null}}},
{"data":{"values":[{}]},"mark":{"type":"rule","stroke":"black","strokeWidth":1.5},
 "encoding":{"y":{"datum":0,"type":"quantitative","scale":{"domain":[-1,2],"nice":false},"axis":null}}},
{"data":{"values":[{}]},"mark":{"type":"rule","stroke":"black","strokeWidth":1,"strokeDash":[7,3,1.5,3]},
 "encoding":{"x":{"datum":0,"type":"quantitative","scale":{"domain":[-12,6],"nice":false,"zero":false},"axis":null}}},
{"data":{"values":[{}]},"mark":{"type":"text","text":"AFM","fontSize":10,"fill":"black","align":"left","baseline":"middle"},"encoding":{"x":{"datum":-5.02,"type":"quantitative","scale":{"domain":[-12,6],"nice":false,"zero":false},"axis":null},"y":{"datum":1.18,"type":"quantitative","scale":{"domain":[-1,2],"nice":false},"axis":null}}},
{"data":{"values":[{}]},"mark":{"type":"text","text":"FM","fontSize":10,"fill":"black","align":"left","baseline":"middle"},"encoding":{"x":{"datum":-5.02,"type":"quantitative","scale":{"domain":[-12,6],"nice":false,"zero":false},"axis":null},"y":{"datum":0.81,"type":"quantitative","scale":{"domain":[-1,2],"nice":false},"axis":null}}}
]},
{"width":363,"height":361,"data":{"name":"p5"},"resolve":{"axis":{"x":"independent","y":"independent"}},
"layer":[
{"transform":[{"filter":"datum.s=='v'"}],"mark":{"type":"area","clip":true,"opacity":1,"fill":"black"},
 "encoding":{"x":{"field":"x","type":"quantitative","scale":{"domain":[-12,6],"nice":false,"zero":false},"axis":{"orient":"bottom","values":[-12,-11,-10,-9,-8,-7,-6,-5,-4,-3,-2,-1,0,1,2,3,4,5,6],"labelExpr":"datum.value % 3 == 0 ? '' + datum.value : ''","title":"Energy (eV)"}},
  "y":{"field":"y","type":"quantitative","scale":{"domain":[-1,2],"nice":false},"axis":{"orient":"left","values":[-1,-0.5,0,0.5,1,1.5,2],"labels":false,"title":null}}}},
{"transform":[{"filter":"datum.s=='g'"}],"mark":{"type":"area","clip":true,"opacity":1,"fill":"#dcdcdc"},
 "encoding":{"x":{"field":"x","type":"quantitative","scale":{"domain":[-12,6],"nice":false,"zero":false},"axis":null},
  "y":{"field":"y","type":"quantitative","scale":{"domain":[-1,2],"nice":false},"axis":null}}},
{"transform":[{"filter":"datum.s=='gd'"}],"mark":{"type":"area","clip":true,"opacity":1,"fill":"#dcdcdc"},
 "encoding":{"x":{"field":"x","type":"quantitative","scale":{"domain":[-12,6],"nice":false,"zero":false},"axis":null},
  "y":{"field":"y","type":"quantitative","scale":{"domain":[-1,2],"nice":false},"axis":null}}},
{"transform":[{"filter":"datum.s=='f'"}],"mark":{"type":"line","clip":true,"stroke":"black","strokeWidth":1.2,"strokeDash":[5,3]},
 "encoding":{"x":{"field":"x","type":"quantitative","scale":{"domain":[-12,6],"nice":false,"zero":false},"axis":{"orient":"top","values":[-12,-11,-10,-9,-8,-7,-6,-5,-4,-3,-2,-1,0,1,2,3,4,5,6],"labels":false,"title":null}},
  "y":{"field":"y","type":"quantitative","scale":{"domain":[-1,2],"nice":false},"axis":{"orient":"right","values":[-1,-0.5,0,0.5,1,1.5,2],"labels":false,"title":null}}}},
{"transform":[{"filter":"datum.s=='fd'"}],"mark":{"type":"line","clip":true,"stroke":"black","strokeWidth":1.2,"strokeDash":[5,3]},
 "encoding":{"x":{"field":"x","type":"quantitative","scale":{"domain":[-12,6],"nice":false,"zero":false},"axis":null},
  "y":{"field":"y","type":"quantitative","scale":{"domain":[-1,2],"nice":false},"axis":null}}},
{"transform":[{"filter":"datum.s=='v'"}],"mark":{"type":"line","clip":true,"stroke":"black","strokeWidth":1.2},
 "encoding":{"x":{"field":"x","type":"quantitative","scale":{"domain":[-12,6],"nice":false,"zero":false},"axis":null},
  "y":{"field":"y","type":"quantitative","scale":{"domain":[-1,2],"nice":false},"axis":null}}},
{"transform":[{"filter":"datum.s=='vd'"}],"mark":{"type":"line","clip":true,"stroke":"black","strokeWidth":1.2},
 "encoding":{"x":{"field":"x","type":"quantitative","scale":{"domain":[-12,6],"nice":false,"zero":false},"axis":null},
  "y":{"field":"y","type":"quantitative","scale":{"domain":[-1,2],"nice":false},"axis":null}}},
{"data":{"values":[{}]},"mark":{"type":"rule","stroke":"black","strokeWidth":1.5},
 "encoding":{"y":{"datum":0,"type":"quantitative","scale":{"domain":[-1,2],"nice":false},"axis":null}}},
{"data":{"values":[{}]},"mark":{"type":"rule","stroke":"black","strokeWidth":1,"strokeDash":[7,3,1.5,3]},
 "encoding":{"x":{"datum":0,"type":"quantitative","scale":{"domain":[-12,6],"nice":false,"zero":false},"axis":null}}}
]},
{"width":363,"height":361,"data":{"name":"p6"},"resolve":{"axis":{"x":"independent","y":"independent"}},
"layer":[
{"transform":[{"filter":"datum.s=='v'"}],"mark":{"type":"area","clip":true,"opacity":1,"fill":"black"},
 "encoding":{"x":{"field":"x","type":"quantitative","scale":{"domain":[-12,6],"nice":false,"zero":false},"axis":{"orient":"bottom","values":[-12,-11,-10,-9,-8,-7,-6,-5,-4,-3,-2,-1,0,1,2,3,4,5,6],"labelExpr":"datum.value % 3 == 0 ? '' + datum.value : ''","title":"Energy (eV)"}},
  "y":{"field":"y","type":"quantitative","scale":{"domain":[-1,2],"nice":false},"axis":{"orient":"left","values":[-1,-0.5,0,0.5,1,1.5,2],"labels":false,"title":null}}}},
{"transform":[{"filter":"datum.s=='g'"}],"mark":{"type":"area","clip":true,"opacity":1,"fill":"#dcdcdc"},
 "encoding":{"x":{"field":"x","type":"quantitative","scale":{"domain":[-12,6],"nice":false,"zero":false},"axis":null},
  "y":{"field":"y","type":"quantitative","scale":{"domain":[-1,2],"nice":false},"axis":null}}},
{"transform":[{"filter":"datum.s=='gd'"}],"mark":{"type":"area","clip":true,"opacity":1,"fill":"#dcdcdc"},
 "encoding":{"x":{"field":"x","type":"quantitative","scale":{"domain":[-12,6],"nice":false,"zero":false},"axis":null},
  "y":{"field":"y","type":"quantitative","scale":{"domain":[-1,2],"nice":false},"axis":null}}},
{"transform":[{"filter":"datum.s=='f'"}],"mark":{"type":"line","clip":true,"stroke":"black","strokeWidth":1.2,"strokeDash":[5,3]},
 "encoding":{"x":{"field":"x","type":"quantitative","scale":{"domain":[-12,6],"nice":false,"zero":false},"axis":{"orient":"top","values":[-12,-11,-10,-9,-8,-7,-6,-5,-4,-3,-2,-1,0,1,2,3,4,5,6],"labels":false,"title":null}},
  "y":{"field":"y","type":"quantitative","scale":{"domain":[-1,2],"nice":false},"axis":{"orient":"right","values":[-1,-0.5,0,0.5,1,1.5,2],"labels":false,"title":null}}}},
{"transform":[{"filter":"datum.s=='fd'"}],"mark":{"type":"line","clip":true,"stroke":"black","strokeWidth":1.2,"strokeDash":[5,3]},
 "encoding":{"x":{"field":"x","type":"quantitative","scale":{"domain":[-12,6],"nice":false,"zero":false},"axis":null},
  "y":{"field":"y","type":"quantitative","scale":{"domain":[-1,2],"nice":false},"axis":null}}},
{"transform":[{"filter":"datum.s=='v'"}],"mark":{"type":"line","clip":true,"stroke":"black","strokeWidth":1.2},
 "encoding":{"x":{"field":"x","type":"quantitative","scale":{"domain":[-12,6],"nice":false,"zero":false},"axis":null},
  "y":{"field":"y","type":"quantitative","scale":{"domain":[-1,2],"nice":false},"axis":null}}},
{"transform":[{"filter":"datum.s=='vd'"}],"mark":{"type":"line","clip":true,"stroke":"black","strokeWidth":1.2},
 "encoding":{"x":{"field":"x","type":"quantitative","scale":{"domain":[-12,6],"nice":false,"zero":false},"axis":null},
  "y":{"field":"y","type":"quantitative","scale":{"domain":[-1,2],"nice":false},"axis":null}}},
{"data":{"values":[{}]},"mark":{"type":"rule","stroke":"black","strokeWidth":1.5},
 "encoding":{"y":{"datum":0,"type":"quantitative","scale":{"domain":[-1,2],"nice":false},"axis":null}}},
{"data":{"values":[{}]},"mark":{"type":"rule","stroke":"black","strokeWidth":1,"strokeDash":[7,3,1.5,3]},
 "encoding":{"x":{"datum":0,"type":"quantitative","scale":{"domain":[-12,6],"nice":false,"zero":false},"axis":null}}}
]}
]
}
